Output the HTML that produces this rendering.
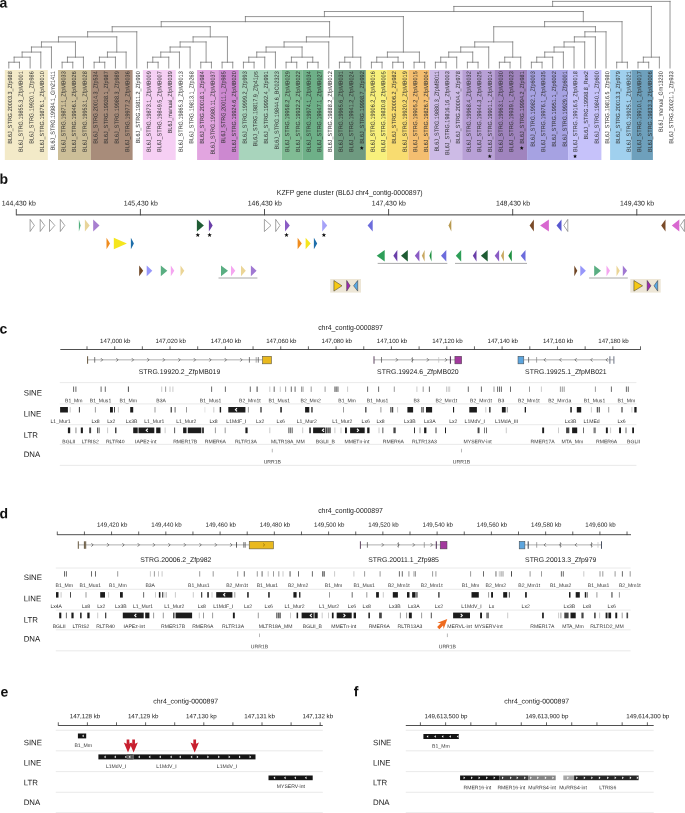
<!DOCTYPE html>
<html><head><meta charset="utf-8"><title>Figure</title>
<style>
html,body{margin:0;padding:0;background:#fff;}
body{width:685px;height:813px;overflow:hidden;font-family:"Liberation Sans",sans-serif;}
svg{display:block;will-change:transform;}
svg text{font-family:"Liberation Sans",sans-serif;}
</style></head><body>
<svg width="685" height="813" viewBox="0 0 685 813">
<rect width="685" height="813" fill="#fff"/>
<g opacity="0.999">
<rect x="4.8" y="70" width="43" height="90" fill="#F3EAC8"/>
<rect x="58" y="70" width="32.9" height="90" fill="#CCBE98"/>
<rect x="90.9" y="70" width="41.7" height="90" fill="#A88C7A"/>
<rect x="142.9" y="70" width="32.8" height="90" fill="#F6CFF4"/>
<rect x="197.1" y="70" width="21.2" height="90" fill="#E2A5E0"/>
<rect x="218.3" y="70" width="20.6" height="90" fill="#CC88D0"/>
<rect x="238.9" y="70" width="42.8" height="90" fill="#A8D4BC"/>
<rect x="281.7" y="70" width="20.6" height="90" fill="#80BC94"/>
<rect x="302.3" y="70" width="21.1" height="90" fill="#6EB088"/>
<rect x="334" y="70" width="31.9" height="90" fill="#6E9A80"/>
<rect x="365.9" y="70" width="21" height="90" fill="#F8F07C"/>
<rect x="386.9" y="70" width="21.4" height="90" fill="#F8DC70"/>
<rect x="408.3" y="70" width="21.2" height="90" fill="#F4BE70"/>
<rect x="429.5" y="70" width="32.7" height="90" fill="#CDBBE6"/>
<rect x="462.2" y="70" width="32.1" height="90" fill="#B8A0D6"/>
<rect x="494.3" y="70" width="32.8" height="90" fill="#A084BE"/>
<rect x="527.1" y="70" width="41" height="90" fill="#A6A2E2"/>
<rect x="568.1" y="70" width="33.3" height="90" fill="#C6C2FA"/>
<rect x="610.1" y="70" width="21.3" height="90" fill="#A0D0EE"/>
<rect x="631.4" y="70" width="21.5" height="90" fill="#6EA0BC"/>
<path d="M8.8 68L8.8 62.23M19.46 68L19.46 62.23M8.8 62.23L19.46 62.23M14.13 62.23L14.13 57.16M30.13 68L30.13 57.16M14.13 57.16L30.13 57.16M22.13 57.16L22.13 52.09M40.8 68L40.8 52.09M22.13 52.09L40.8 52.09M31.46 52.09L31.46 47.02M51.46 68L51.46 47.02M31.46 47.02L51.46 47.02M62.12 68L62.12 62.23M72.79 68L72.79 62.23M62.12 62.23L72.79 62.23M67.46 62.23L67.46 57.16M83.45 68L83.45 57.16M67.46 57.16L83.45 57.16M41.46 47.02L41.46 41.95M75.46 57.16L75.46 41.95M41.46 41.95L75.46 41.95M94.12 68L94.12 62.23M104.78 68L104.78 62.23M94.12 62.23L104.78 62.23M99.45 62.23L99.45 57.16M115.45 68L115.45 57.16M99.45 57.16L115.45 57.16M107.45 57.16L107.45 52.09M126.11 68L126.11 52.09M107.45 52.09L126.11 52.09M58.46 41.95L58.46 36.88M116.78 52.09L116.78 36.88M58.46 36.88L116.78 36.88M87.62 36.88L87.62 31.81M136.78 68L136.78 31.81M87.62 31.81L136.78 31.81M147.44 68L147.44 62.23M158.11 68L158.11 62.23M147.44 62.23L158.11 62.23M152.78 62.23L152.78 57.16M168.78 68L168.78 57.16M152.78 57.16L168.78 57.16M160.78 57.16L160.78 52.09M179.44 68L179.44 52.09M160.78 52.09L179.44 52.09M170.11 52.09L170.11 47.02M190.1 68L190.1 47.02M170.11 47.02L190.1 47.02M200.77 68L200.77 62.23M211.44 68L211.44 62.23M200.77 62.23L211.44 62.23M180.11 47.02L180.11 41.95M206.1 62.23L206.1 41.95M180.11 41.95L206.1 41.95M222.1 68L222.1 62.23M232.76 68L232.76 62.23M222.1 62.23L232.76 62.23M193.1 41.95L193.1 36.88M227.43 62.23L227.43 36.88M193.1 36.88L227.43 36.88M112.2 31.81L112.2 26.74M210.27 36.88L210.27 26.74M112.2 26.74L210.27 26.74M243.43 68L243.43 62.23M254.09 68L254.09 62.23M243.43 62.23L254.09 62.23M248.76 62.23L248.76 57.16M264.76 68L264.76 57.16M248.76 57.16L264.76 57.16M256.76 57.16L256.76 52.09M275.43 68L275.43 52.09M256.76 52.09L275.43 52.09M286.09 68L286.09 62.23M296.75 68L296.75 62.23M286.09 62.23L296.75 62.23M307.42 68L307.42 62.23M318.08 68L318.08 62.23M307.42 62.23L318.08 62.23M291.42 62.23L291.42 57.16M312.75 62.23L312.75 57.16M291.42 57.16L312.75 57.16M266.09 52.09L266.09 47.02M302.09 57.16L302.09 47.02M266.09 47.02L302.09 47.02M284.09 47.02L284.09 41.95M328.75 68L328.75 41.95M284.09 41.95L328.75 41.95M339.41 68L339.41 62.23M350.08 68L350.08 62.23M339.41 62.23L350.08 62.23M344.75 62.23L344.75 57.16M360.75 68L360.75 57.16M344.75 57.16L360.75 57.16M306.42 41.95L306.42 36.88M352.75 57.16L352.75 36.88M306.42 36.88L352.75 36.88M161.23 26.74L161.23 21.67M329.58 36.88L329.58 21.67M161.23 21.67L329.58 21.67M371.41 68L371.41 62.23M382.07 68L382.07 62.23M371.41 62.23L382.07 62.23M392.74 68L392.74 62.23M403.4 68L403.4 62.23M392.74 62.23L403.4 62.23M376.74 62.23L376.74 57.16M398.07 62.23L398.07 57.16M376.74 57.16L398.07 57.16M414.07 68L414.07 62.23M424.73 68L424.73 62.23M414.07 62.23L424.73 62.23M387.41 57.16L387.41 52.09M419.4 62.23L419.4 52.09M387.41 52.09L419.4 52.09M245.41 21.67L245.41 16.6M403.4 52.09L403.4 16.6M245.41 16.6L403.4 16.6M435.4 68L435.4 62.23M446.06 68L446.06 62.23M435.4 62.23L446.06 62.23M440.73 62.23L440.73 57.16M456.73 68L456.73 57.16M440.73 57.16L456.73 57.16M467.39 68L467.39 62.23M478.06 68L478.06 62.23M467.39 62.23L478.06 62.23M448.73 57.16L448.73 52.09M472.73 62.23L472.73 52.09M448.73 52.09L472.73 52.09M460.73 52.09L460.73 47.02M488.72 68L488.72 47.02M460.73 47.02L488.72 47.02M499.39 68L499.39 62.23M510.05 68L510.05 62.23M499.39 62.23L510.05 62.23M504.72 62.23L504.72 57.16M520.72 68L520.72 57.16M504.72 57.16L520.72 57.16M474.73 47.02L474.73 41.95M512.72 57.16L512.72 41.95M474.73 41.95L512.72 41.95M531.38 68L531.38 62.23M542.05 68L542.05 62.23M531.38 62.23L542.05 62.23M536.72 62.23L536.72 57.16M552.71 68L552.71 57.16M536.72 57.16L552.71 57.16M544.72 57.16L544.72 52.09M563.38 68L563.38 52.09M544.72 52.09L563.38 52.09M554.05 52.09L554.05 47.02M574.04 68L574.04 47.02M554.05 47.02L574.04 47.02M564.05 47.02L564.05 41.95M584.71 68L584.71 41.95M564.05 41.95L584.71 41.95M574.38 41.95L574.38 36.88M595.37 68L595.37 36.88M574.38 36.88L595.37 36.88M584.88 36.88L584.88 31.81M606.04 68L606.04 31.81M584.88 31.81L606.04 31.81M493.72 41.95L493.72 26.74M595.46 31.81L595.46 26.74M493.72 26.74L595.46 26.74M616.7 68L616.7 62.23M627.37 68L627.37 62.23M616.7 62.23L627.37 62.23M544.59 26.74L544.59 21.67M622.04 62.23L622.04 21.67M544.59 21.67L622.04 21.67M324.41 16.6L324.41 11.53M583.31 21.67L583.31 11.53M324.41 11.53L583.31 11.53M638.03 68L638.03 62.23M648.7 68L648.7 62.23M638.03 62.23L648.7 62.23M643.37 62.23L643.37 57.16M659.36 68L659.36 57.16M643.37 57.16L659.36 57.16M453.86 11.53L453.86 6.46M651.37 57.16L651.37 6.46M453.86 6.46L651.37 6.46M552.61 6.46L552.61 1.39M670.03 68L670.03 1.39M552.61 1.39L670.03 1.39" stroke="#6c6c6c" stroke-width="0.72" fill="none" stroke-linecap="square"/>
<text transform="translate(12.1 71.3) rotate(-89.97) scale(.917 1)" font-size="6" text-anchor="end" fill="#2e2e2e">BL6J_STRG.20003.3_Zfp988</text>
<text transform="translate(22.77 71.3) rotate(-89.97) scale(.917 1)" font-size="6" text-anchor="end" fill="#2e2e2e">BL6J_STRG.19855.3_ZfpMB001</text>
<text transform="translate(33.43 71.3) rotate(-89.97) scale(.917 1)" font-size="6" text-anchor="end" fill="#2e2e2e">BL6J_STRG.19920.1_Zfp986</text>
<text transform="translate(44.09 71.3) rotate(-89.97) scale(.917 1)" font-size="6" text-anchor="end" fill="#2e2e2e">BL6J_STRG.19876.1_ZfpMB010</text>
<text transform="translate(54.76 71.3) rotate(-89.97) scale(.917 1)" font-size="6" text-anchor="end" fill="#2e2e2e">BL6J_STRG.19984.1_Gm21411</text>
<text transform="translate(65.42 71.3) rotate(-89.97) scale(.917 1)" font-size="6" text-anchor="end" fill="#2e2e2e">BL6J_STRG.19871.1_ZfpMB033</text>
<text transform="translate(76.09 71.3) rotate(-89.97) scale(.917 1)" font-size="6" text-anchor="end" fill="#2e2e2e">BL6J_STRG.19946.1_ZfpMB026</text>
<text transform="translate(86.75 71.3) rotate(-89.97) scale(.917 1)" font-size="6" text-anchor="end" fill="#2e2e2e">BL6J_STRG.19953.1_ZfpMB028</text>
<text transform="translate(97.42 71.3) rotate(-89.97) scale(.917 1)" font-size="6" text-anchor="end" fill="#2e2e2e">BL6J_STRG.20014.3_Zfp534</text>
<text transform="translate(108.08 71.3) rotate(-89.97) scale(.917 1)" font-size="6" text-anchor="end" fill="#2e2e2e">BL6J_STRG.19938.1_Zfp987</text>
<text transform="translate(118.75 71.3) rotate(-89.97) scale(.917 1)" font-size="6" text-anchor="end" fill="#2e2e2e">BL6J_STRG.19988.3_Zfp989</text>
<text transform="translate(129.41 71.3) rotate(-89.97) scale(.917 1)" font-size="6" text-anchor="end" fill="#2e2e2e">BL6J_STRG.19977.2_ZfpMB036</text>
<text transform="translate(140.08 71.3) rotate(-89.97) scale(.917 1)" font-size="6" text-anchor="end" fill="#2e2e2e">BL6J_STRG.19811.2_Zfp990</text>
<text transform="translate(150.75 71.3) rotate(-89.97) scale(.917 1)" font-size="6" text-anchor="end" fill="#2e2e2e">BL6J_STRG.19873.1_ZfpMB009</text>
<text transform="translate(161.41 71.3) rotate(-89.97) scale(.917 1)" font-size="6" text-anchor="end" fill="#2e2e2e">BL6J_STRG.19849.5_ZfpMB007</text>
<text transform="translate(172.08 71.3) rotate(-89.97) scale(.917 1)" font-size="6" text-anchor="end" fill="#2e2e2e">BL6J_manual_ZfpMB039</text>
<text transform="translate(182.74 71.3) rotate(-89.97) scale(.917 1)" font-size="6" text-anchor="end" fill="#2e2e2e">BL6J_STRG.19865.3_ZfpMB013</text>
<text transform="translate(193.41 71.3) rotate(-89.97) scale(.917 1)" font-size="6" text-anchor="end" fill="#2e2e2e">BL6J_STRG.19813.1_Zfp268</text>
<text transform="translate(204.07 71.3) rotate(-89.97) scale(.917 1)" font-size="6" text-anchor="end" fill="#2e2e2e">BL6J_STRG.20018.1_Zfp984</text>
<text transform="translate(214.74 71.3) rotate(-89.97) scale(.917 1)" font-size="6" text-anchor="end" fill="#2e2e2e">BL6J_STRG.19980.11_ZfpMB037</text>
<text transform="translate(225.4 71.3) rotate(-89.97) scale(.917 1)" font-size="6" text-anchor="end" fill="#2e2e2e">BL6J_STRG.20011.1_Zfp985</text>
<text transform="translate(236.06 71.3) rotate(-89.97) scale(.917 1)" font-size="6" text-anchor="end" fill="#2e2e2e">BL6J_STRG.19924.6_ZfpMB020</text>
<text transform="translate(246.73 71.3) rotate(-89.97) scale(.917 1)" font-size="6" text-anchor="end" fill="#2e2e2e">BL6J_STRG.19999.2_Zfp993</text>
<text transform="translate(257.39 71.3) rotate(-89.97) scale(.917 1)" font-size="6" text-anchor="end" fill="#2e2e2e">BL6J_STRG.19817.9_Zfp41ps</text>
<text transform="translate(268.06 71.3) rotate(-89.97) scale(.917 1)" font-size="6" text-anchor="end" fill="#2e2e2e">BL6J_STRG.19992.4_Zfp991</text>
<text transform="translate(278.73 71.3) rotate(-89.97) scale(.917 1)" font-size="6" text-anchor="end" fill="#2e2e2e">BL6J_STRG.19844.6_BC02323</text>
<text transform="translate(289.39 71.3) rotate(-89.97) scale(.917 1)" font-size="6" text-anchor="end" fill="#2e2e2e">BL6J_STRG.19958.2_ZfpMB029</text>
<text transform="translate(300.06 71.3) rotate(-89.97) scale(.917 1)" font-size="6" text-anchor="end" fill="#2e2e2e">BL6J_STRG.19932.2_ZfpMB022</text>
<text transform="translate(310.72 71.3) rotate(-89.97) scale(.917 1)" font-size="6" text-anchor="end" fill="#2e2e2e">BL6J_STRG.19974.1_ZfpMB034</text>
<text transform="translate(321.38 71.3) rotate(-89.97) scale(.917 1)" font-size="6" text-anchor="end" fill="#2e2e2e">BL6J_STRG.19947.1_ZfpMB027</text>
<text transform="translate(332.05 71.3) rotate(-89.97) scale(.917 1)" font-size="6" text-anchor="end" fill="#2e2e2e">BL6J_STRG.19888.2_ZfpMB012</text>
<text transform="translate(342.71 71.3) rotate(-89.97) scale(.917 1)" font-size="6" text-anchor="end" fill="#2e2e2e">BL6J_STRG.19965.6_ZfpMB031</text>
<text transform="translate(353.38 71.3) rotate(-89.97) scale(.917 1)" font-size="6" text-anchor="end" fill="#2e2e2e">BL6J_STRG.19941.2_ZfpMB024</text>
<text transform="translate(364.05 71.3) rotate(-89.97) scale(.917 1)" font-size="6" text-anchor="end" fill="#2e2e2e">BL6J_STRG.19998.7_Zfp992</text>
<polygon points="361.75,145.96 362.3,147.3 363.74,147.42 362.64,148.36 362.98,149.76 361.75,149.01 360.51,149.76 360.85,148.36 359.75,147.42 361.19,147.3" fill="#111"/>
<text transform="translate(374.71 71.3) rotate(-89.97) scale(.917 1)" font-size="6" text-anchor="end" fill="#2e2e2e">BL6J_STRG.19906.2_ZfpMB016</text>
<text transform="translate(385.38 71.3) rotate(-89.97) scale(.917 1)" font-size="6" text-anchor="end" fill="#2e2e2e">BL6J_STRG.19830.8_ZfpMB005</text>
<text transform="translate(396.04 71.3) rotate(-89.97) scale(.917 1)" font-size="6" text-anchor="end" fill="#2e2e2e">BL6J_STRG.20006.2_Zfp982</text>
<text transform="translate(406.7 71.3) rotate(-89.97) scale(.917 1)" font-size="6" text-anchor="end" fill="#2e2e2e">BL6J_STRG.19920.2_ZfpMB019</text>
<text transform="translate(417.37 71.3) rotate(-89.97) scale(.917 1)" font-size="6" text-anchor="end" fill="#2e2e2e">BL6J_STRG.19905.2_ZfpMB015</text>
<text transform="translate(428.03 71.3) rotate(-89.97) scale(.917 1)" font-size="6" text-anchor="end" fill="#2e2e2e">BL6J_STRG.19826.7_ZfpMB004</text>
<text transform="translate(438.7 71.3) rotate(-89.97) scale(.917 1)" font-size="6" text-anchor="end" fill="#2e2e2e">BL6J_STRG.19880.3_ZfpMB011</text>
<text transform="translate(449.37 71.3) rotate(-89.97) scale(.917 1)" font-size="6" text-anchor="end" fill="#2e2e2e">BL6J_STRG.19816.16_ZfpMB003</text>
<text transform="translate(460.03 71.3) rotate(-89.97) scale(.917 1)" font-size="6" text-anchor="end" fill="#2e2e2e">BL6J_STRG.20004.4_Zfp978</text>
<text transform="translate(470.69 71.3) rotate(-89.97) scale(.917 1)" font-size="6" text-anchor="end" fill="#2e2e2e">BL6J_STRG.19968.4_ZfpMB032</text>
<text transform="translate(481.36 71.3) rotate(-89.97) scale(.917 1)" font-size="6" text-anchor="end" fill="#2e2e2e">BL6J_STRG.19944.3_ZfpMB025</text>
<text transform="translate(492.02 71.3) rotate(-89.97) scale(.917 1)" font-size="6" text-anchor="end" fill="#2e2e2e">BL6J_STRG.19901.1_ZfpMB014</text>
<polygon points="489.72,154.21 490.28,155.55 491.72,155.67 490.62,156.61 490.96,158.01 489.72,157.26 488.49,158.01 488.83,156.61 487.73,155.67 489.17,155.55" fill="#111"/>
<text transform="translate(502.69 71.3) rotate(-89.97) scale(.917 1)" font-size="6" text-anchor="end" fill="#2e2e2e">BL6J_STRG.19963.1_ZfpMB030</text>
<text transform="translate(513.35 71.3) rotate(-89.97) scale(.917 1)" font-size="6" text-anchor="end" fill="#2e2e2e">BL6J_STRG.19939.1_ZfpMB023</text>
<text transform="translate(524.02 71.3) rotate(-89.97) scale(.917 1)" font-size="6" text-anchor="end" fill="#2e2e2e">BL6J_STRG.19994.2_Zfp981</text>
<polygon points="521.72,145.96 522.28,147.3 523.72,147.42 522.62,148.36 522.95,149.76 521.72,149.01 520.49,149.76 520.82,148.36 519.72,147.42 521.16,147.3" fill="#111"/>
<text transform="translate(534.68 71.3) rotate(-89.97) scale(.917 1)" font-size="6" text-anchor="end" fill="#2e2e2e">BL6J_STRG.19982.1_Zfp6003</text>
<text transform="translate(545.35 71.3) rotate(-89.97) scale(.917 1)" font-size="6" text-anchor="end" fill="#2e2e2e">BL6J_STRG.19976.1_ZfpMB035</text>
<text transform="translate(556.01 71.3) rotate(-89.97) scale(.917 1)" font-size="6" text-anchor="end" fill="#2e2e2e">BL6J_STRG.19951.1_Zfp6002</text>
<text transform="translate(566.68 71.3) rotate(-89.97) scale(.917 1)" font-size="6" text-anchor="end" fill="#2e2e2e">BL6J_STRG.19929.1_Zfp6001</text>
<text transform="translate(577.34 71.3) rotate(-89.97) scale(.917 1)" font-size="6" text-anchor="end" fill="#2e2e2e">BL6J_STRG.19916.5_ZfpMB018</text>
<polygon points="575.04,154.21 575.6,155.55 577.04,155.67 575.94,156.61 576.28,158.01 575.04,157.26 573.81,158.01 574.15,156.61 573.05,155.67 574.49,155.55" fill="#111"/>
<text transform="translate(588.01 71.3) rotate(-89.97) scale(.917 1)" font-size="6" text-anchor="end" fill="#2e2e2e">BL6J_STRG.19998.8_Rex2</text>
<text transform="translate(598.67 71.3) rotate(-89.97) scale(.917 1)" font-size="6" text-anchor="end" fill="#2e2e2e">BL6J_STRG.19840.1_Zfp600</text>
<text transform="translate(609.34 71.3) rotate(-89.97) scale(.917 1)" font-size="6" text-anchor="end" fill="#2e2e2e">BL6J_STRG.19816.5_Zfp980</text>
<text transform="translate(620 71.3) rotate(-89.97) scale(.917 1)" font-size="6" text-anchor="end" fill="#2e2e2e">BL6J_STRG.20013.3_Zfp979</text>
<text transform="translate(630.67 71.3) rotate(-89.97) scale(.917 1)" font-size="6" text-anchor="end" fill="#2e2e2e">BL6J_STRG.19925.1_ZfpMB021</text>
<text transform="translate(641.33 71.3) rotate(-89.97) scale(.917 1)" font-size="6" text-anchor="end" fill="#2e2e2e">BL6J_STRG.19910.1_ZfpMB017</text>
<text transform="translate(652 71.3) rotate(-89.97) scale(.917 1)" font-size="6" text-anchor="end" fill="#2e2e2e">BL6J_STRG.19833.3_ZfpMB006</text>
<text transform="translate(662.66 71.3) rotate(-89.97) scale(.917 1)" font-size="6" text-anchor="end" fill="#2e2e2e">BL6J_manual_Gm13230</text>
<text transform="translate(673.33 71.3) rotate(-89.97) scale(.917 1)" font-size="6" text-anchor="end" fill="#2e2e2e">BL6J_STRG.20021.1_Zfp933</text>
<text x="-0.6" y="7.4" font-size="14" font-weight="bold" fill="#111" transform="rotate(.03 -0.6 7.4)">a</text>
<text x="-0.6" y="183.8" font-size="14" font-weight="bold" fill="#111" transform="rotate(.03 -0.6 183.8)">b</text>
<text x="349.7" y="195.4" font-size="6.9" text-anchor="middle" fill="#222" transform="rotate(.03 349.7 195.4)">KZFP gene cluster (BL6J chr4_contig-0000897)</text>
<line x1="16.3" y1="214.9" x2="685" y2="214.9" stroke="#3c3c3c" stroke-width="1.0"/>
<line x1="16.3" y1="209" x2="16.3" y2="215.3" stroke="#3c3c3c" stroke-width="0.9"/>
<text x="18.8" y="205.4" font-size="6.9" text-anchor="middle" fill="#222" transform="rotate(.03 18.8 205.4)">144,430 kb</text>
<line x1="140.4" y1="209" x2="140.4" y2="215.3" stroke="#3c3c3c" stroke-width="0.9"/>
<text x="140.7" y="205.4" font-size="6.9" text-anchor="middle" fill="#222" transform="rotate(.03 140.7 205.4)">145,430 kb</text>
<line x1="264.5" y1="209" x2="264.5" y2="215.3" stroke="#3c3c3c" stroke-width="0.9"/>
<text x="264.8" y="205.4" font-size="6.9" text-anchor="middle" fill="#222" transform="rotate(.03 264.8 205.4)">146,430 kb</text>
<line x1="388.6" y1="209" x2="388.6" y2="215.3" stroke="#3c3c3c" stroke-width="0.9"/>
<text x="388.9" y="205.4" font-size="6.9" text-anchor="middle" fill="#222" transform="rotate(.03 388.9 205.4)">147,430 kb</text>
<line x1="512.7" y1="209" x2="512.7" y2="215.3" stroke="#3c3c3c" stroke-width="0.9"/>
<text x="513" y="205.4" font-size="6.9" text-anchor="middle" fill="#222" transform="rotate(.03 513 205.4)">148,430 kb</text>
<line x1="636.8" y1="209" x2="636.8" y2="215.3" stroke="#3c3c3c" stroke-width="0.9"/>
<text x="637.1" y="205.4" font-size="6.9" text-anchor="middle" fill="#222" transform="rotate(.03 637.1 205.4)">149,430 kb</text>
<polygon points="30.1,219.4 34.4,225.45 30.1,231.5" fill="#fff" stroke="#666" stroke-width="0.6" stroke-linejoin="miter"/>
<polygon points="40.2,219.4 44.7,225.45 40.2,231.5" fill="#fff" stroke="#666" stroke-width="0.6" stroke-linejoin="miter"/>
<polygon points="49.5,219.4 54.8,225.45 49.5,231.5" fill="#fff" stroke="#666" stroke-width="0.6" stroke-linejoin="miter"/>
<polygon points="60.3,219.4 64.8,225.45 60.3,231.5" fill="#fff" stroke="#666" stroke-width="0.6" stroke-linejoin="miter"/>
<polygon points="264.4,219.4 271,225.45 264.4,231.5" fill="#fff" stroke="#666" stroke-width="0.6" stroke-linejoin="miter"/>
<polygon points="275.7,219.4 280,225.45 275.7,231.5" fill="#fff" stroke="#666" stroke-width="0.6" stroke-linejoin="miter"/>
<polygon points="78.9,219.4 80.6,225.45 78.9,231.5" fill="#4FAE7C"/>
<polygon points="84.9,219.4 89.7,225.45 84.9,231.5" fill="#E8D49A"/>
<polygon points="93.2,219.4 99.5,225.45 93.2,231.5" fill="#A87FD0"/>
<polygon points="196.9,219.4 203.9,225.45 196.9,231.5" fill="#1F5C34"/>
<polygon points="208.9,219.4 212.7,225.45 208.9,231.5" fill="#6A3FA8"/>
<polygon points="285,219.4 289.8,225.45 285,231.5" fill="#8A5CC4"/>
<polygon points="322.2,219.4 327.2,225.45 322.2,231.5" fill="#A6A2F8"/>
<polygon points="372.7,219.4 367.6,225.45 372.7,231.5" fill="#6C6CDC"/>
<polygon points="451.3,219.4 448.5,225.45 451.3,231.5" fill="#B89A50"/>
<polygon points="533.9,219.4 529.6,225.45 533.9,231.5" fill="#7A4A28"/>
<polygon points="548.9,219.4 540.1,225.45 548.9,231.5" fill="#D868D0"/>
<polygon points="561.5,219.4 556.5,225.45 561.5,231.5" fill="#5858D0"/>
<polygon points="665.5,219.4 661.2,225.45 665.5,231.5" fill="#7A4A28"/>
<polygon points="679.3,219.4 671.8,225.45 679.3,231.5" fill="#D868D0"/>
<polygon points="567.8,219.4 563.8,225.45 567.8,231.5" fill="#fff" stroke="#666" stroke-width="0.6" stroke-linejoin="miter"/>
<polygon points="684.4,219.4 680.3,225.45 684.4,231.5" fill="#fff" stroke="#666" stroke-width="0.6" stroke-linejoin="miter"/>
<polygon points="197.8,232.65 198.42,234.14 200.03,234.27 198.81,235.33 199.18,236.9 197.8,236.06 196.42,236.9 196.79,235.33 195.57,234.27 197.18,234.14" fill="#111"/>
<polygon points="209.6,232.65 210.22,234.14 211.83,234.27 210.61,235.33 210.98,236.9 209.6,236.06 208.22,236.9 208.59,235.33 207.37,234.27 208.98,234.14" fill="#111"/>
<polygon points="286.5,232.65 287.12,234.14 288.73,234.27 287.51,235.33 287.88,236.9 286.5,236.06 285.12,236.9 285.49,235.33 284.27,234.27 285.88,234.14" fill="#111"/>
<polygon points="323.9,232.65 324.52,234.14 326.13,234.27 324.91,235.33 325.28,236.9 323.9,236.06 322.52,236.9 322.89,235.33 321.67,234.27 323.28,234.14" fill="#111"/>
<polygon points="106.5,237.8 110,243.5 106.5,249.2" fill="#F08C1E"/>
<polygon points="113.8,237.8 126.9,243.5 113.8,249.2" fill="#F5E61E"/>
<polygon points="130.9,237.8 133.9,243.5 130.9,249.2" fill="#1E6EAA"/>
<polygon points="297.6,237.8 301.8,243.5 297.6,249.2" fill="#F08C1E"/>
<polygon points="305.6,237.8 310.6,243.5 305.6,249.2" fill="#F5E61E"/>
<polygon points="313.9,237.8 317.2,243.5 313.9,249.2" fill="#1E6EAA"/>
<polygon points="384.7,250 376.7,255.8 384.7,261.6" fill="#2E9E58"/>
<polygon points="397.3,250 393.3,255.8 397.3,261.6" fill="#6A3FA8"/>
<polygon points="407.8,250 401,255.8 407.8,261.6" fill="#1F5C34"/>
<polygon points="419.4,250 414.8,255.8 419.4,261.6" fill="#8A5CC4"/>
<polygon points="424.6,250 421.9,255.8 424.6,261.6" fill="#C8A860"/>
<polygon points="431.5,250 429.4,255.8 431.5,261.6" fill="#1E9040"/>
<polygon points="446.3,250 441,255.8 446.3,261.6" fill="#6C6CDC"/>
<polygon points="461.2,250 455.8,255.8 461.2,261.6" fill="#2E9E58"/>
<polygon points="476.5,250 472.8,255.8 476.5,261.6" fill="#6A3FA8"/>
<polygon points="487.7,250 480.9,255.8 487.7,261.6" fill="#1F5C34"/>
<polygon points="499.1,250 494.7,255.8 499.1,261.6" fill="#8A5CC4"/>
<polygon points="503.9,250 501,255.8 503.9,261.6" fill="#C8A860"/>
<polygon points="511.8,250 508.3,255.8 511.8,261.6" fill="#1E9040"/>
<polygon points="525.5,250 520.7,255.8 525.5,261.6" fill="#6C6CDC"/>
<line x1="377.7" y1="263.4" x2="447.3" y2="263.4" stroke="#8c8c8c" stroke-width="0.75"/>
<line x1="455" y1="263.4" x2="527" y2="263.4" stroke="#8c8c8c" stroke-width="0.75"/>
<polygon points="139.2,265.4 143.2,270.8 139.2,276.2" fill="#6E4423"/>
<polygon points="146.7,265.4 152.3,270.8 146.7,276.2" fill="#9696FA"/>
<polygon points="160.8,265.4 167.3,270.8 160.8,276.2" fill="#5AAE82"/>
<polygon points="170.8,265.4 174.3,270.8 170.8,276.2" fill="#F5A5F0"/>
<polygon points="180.5,265.4 184.3,270.8 180.5,276.2" fill="#EBD596"/>
<polygon points="221,265.4 228,270.8 221,276.2" fill="#5AAE82"/>
<polygon points="231,265.4 235.3,270.8 231,276.2" fill="#F5A5F0"/>
<polygon points="241,265.4 245.8,270.8 241,276.2" fill="#EBD596"/>
<polygon points="250.9,265.4 256.6,270.8 250.9,276.2" fill="#A078D2"/>
<polygon points="574.3,265.4 577.3,270.8 574.3,276.2" fill="#6E4423"/>
<polygon points="580.3,265.4 585.9,270.8 580.3,276.2" fill="#9696FA"/>
<polygon points="594.2,265.4 601,270.8 594.2,276.2" fill="#5AAE82"/>
<polygon points="606.5,265.4 610,270.8 606.5,276.2" fill="#F5A5F0"/>
<polygon points="616.5,265.4 619.8,270.8 616.5,276.2" fill="#EBD596"/>
<polygon points="622.8,265.4 627.1,270.8 622.8,276.2" fill="#A078D2"/>
<line x1="218.5" y1="278" x2="257.4" y2="278" stroke="#8c8c8c" stroke-width="0.75"/>
<line x1="589.1" y1="278" x2="627.8" y2="278" stroke="#8c8c8c" stroke-width="0.75"/>
<rect x="330.2" y="279" width="30.8" height="13.6" fill="#EDE6D6"/>
<polygon points="333.9,280.5 342,285.8 333.9,291.1" fill="#F5C814" stroke="#333" stroke-width="0.5" stroke-linejoin="miter"/>
<polygon points="346.7,280.5 350.1,285.8 346.7,291.1" fill="#A028B4" stroke="#333" stroke-width="0.5" stroke-linejoin="miter"/>
<polygon points="357.7,280.5 353.6,285.8 357.7,291.1" fill="#5AAAE6" stroke="#333" stroke-width="0.5" stroke-linejoin="miter"/>
<rect x="630.3" y="279" width="30.4" height="13.6" fill="#EDE6D6"/>
<polygon points="633.9,280.5 642.6,285.8 633.9,291.1" fill="#F5C814" stroke="#333" stroke-width="0.5" stroke-linejoin="miter"/>
<polygon points="647.2,280.5 650.9,285.8 647.2,291.1" fill="#A028B4" stroke="#333" stroke-width="0.5" stroke-linejoin="miter"/>
<polygon points="657.7,280.5 654,285.8 657.7,291.1" fill="#5AAAE6" stroke="#333" stroke-width="0.5" stroke-linejoin="miter"/>
<text x="-0.6" y="333.5" font-size="14" font-weight="bold" fill="#111" transform="rotate(.03 -0.6 333.5)">c</text>
<text x="350.5" y="329.9" font-size="6.9" text-anchor="middle" fill="#222" transform="rotate(.03 350.5 329.9)">chr4_contig-0000897</text>
<line x1="60.3" y1="349.5" x2="640.5" y2="349.5" stroke="#3c3c3c" stroke-width="0.9"/>
<line x1="87" y1="346.3" x2="87" y2="349.9" stroke="#3c3c3c" stroke-width="0.8"/>
<line x1="114.67" y1="346.3" x2="114.67" y2="349.9" stroke="#3c3c3c" stroke-width="0.8"/>
<line x1="142.35" y1="346.3" x2="142.35" y2="349.9" stroke="#3c3c3c" stroke-width="0.8"/>
<line x1="170.03" y1="346.3" x2="170.03" y2="349.9" stroke="#3c3c3c" stroke-width="0.8"/>
<line x1="197.7" y1="346.3" x2="197.7" y2="349.9" stroke="#3c3c3c" stroke-width="0.8"/>
<line x1="225.38" y1="346.3" x2="225.38" y2="349.9" stroke="#3c3c3c" stroke-width="0.8"/>
<line x1="253.05" y1="346.3" x2="253.05" y2="349.9" stroke="#3c3c3c" stroke-width="0.8"/>
<line x1="280.73" y1="346.3" x2="280.73" y2="349.9" stroke="#3c3c3c" stroke-width="0.8"/>
<line x1="308.4" y1="346.3" x2="308.4" y2="349.9" stroke="#3c3c3c" stroke-width="0.8"/>
<line x1="336.08" y1="346.3" x2="336.08" y2="349.9" stroke="#3c3c3c" stroke-width="0.8"/>
<line x1="363.75" y1="346.3" x2="363.75" y2="349.9" stroke="#3c3c3c" stroke-width="0.8"/>
<line x1="391.43" y1="346.3" x2="391.43" y2="349.9" stroke="#3c3c3c" stroke-width="0.8"/>
<line x1="419.1" y1="346.3" x2="419.1" y2="349.9" stroke="#3c3c3c" stroke-width="0.8"/>
<line x1="446.78" y1="346.3" x2="446.78" y2="349.9" stroke="#3c3c3c" stroke-width="0.8"/>
<line x1="474.45" y1="346.3" x2="474.45" y2="349.9" stroke="#3c3c3c" stroke-width="0.8"/>
<line x1="502.12" y1="346.3" x2="502.12" y2="349.9" stroke="#3c3c3c" stroke-width="0.8"/>
<line x1="529.8" y1="346.3" x2="529.8" y2="349.9" stroke="#3c3c3c" stroke-width="0.8"/>
<line x1="557.48" y1="346.3" x2="557.48" y2="349.9" stroke="#3c3c3c" stroke-width="0.8"/>
<line x1="585.15" y1="346.3" x2="585.15" y2="349.9" stroke="#3c3c3c" stroke-width="0.8"/>
<line x1="612.83" y1="346.3" x2="612.83" y2="349.9" stroke="#3c3c3c" stroke-width="0.8"/>
<line x1="640.5" y1="346.3" x2="640.5" y2="349.9" stroke="#3c3c3c" stroke-width="0.8"/>
<text x="115.27" y="343.1" font-size="6.15" text-anchor="middle" fill="#222" transform="rotate(.03 115.27 343.1)">147,000 kb</text>
<text x="170.62" y="343.1" font-size="6.15" text-anchor="middle" fill="#222" transform="rotate(.03 170.62 343.1)">147,020 kb</text>
<text x="225.97" y="343.1" font-size="6.15" text-anchor="middle" fill="#222" transform="rotate(.03 225.97 343.1)">147,040 kb</text>
<text x="281.33" y="343.1" font-size="6.15" text-anchor="middle" fill="#222" transform="rotate(.03 281.33 343.1)">147,060 kb</text>
<text x="336.68" y="343.1" font-size="6.15" text-anchor="middle" fill="#222" transform="rotate(.03 336.68 343.1)">147,080 kb</text>
<text x="392.03" y="343.1" font-size="6.15" text-anchor="middle" fill="#222" transform="rotate(.03 392.03 343.1)">147,100 kb</text>
<text x="447.38" y="343.1" font-size="6.15" text-anchor="middle" fill="#222" transform="rotate(.03 447.38 343.1)">147,120 kb</text>
<text x="502.73" y="343.1" font-size="6.15" text-anchor="middle" fill="#222" transform="rotate(.03 502.73 343.1)">147,140 kb</text>
<text x="558.08" y="343.1" font-size="6.15" text-anchor="middle" fill="#222" transform="rotate(.03 558.08 343.1)">147,160 kb</text>
<text x="613.43" y="343.1" font-size="6.15" text-anchor="middle" fill="#222" transform="rotate(.03 613.43 343.1)">147,180 kb</text>
<line x1="87.6" y1="359.85" x2="262.5" y2="359.85" stroke="#777" stroke-width="0.6"/>
<line x1="87.6" y1="356.25" x2="87.6" y2="363.75" stroke="#65553d" stroke-width="1.0"/>
<line x1="94.7" y1="357.05" x2="94.7" y2="362.65" stroke="#444" stroke-width="0.7"/>
<line x1="249.4" y1="357.05" x2="249.4" y2="362.65" stroke="#444" stroke-width="0.7"/>
<line x1="256.2" y1="357.05" x2="256.2" y2="362.65" stroke="#808080" stroke-width="0.7"/>
<line x1="258.3" y1="357.05" x2="258.3" y2="362.65" stroke="#444" stroke-width="0.7"/>
<path d="M100.95 358.15L102.65 359.85L100.95 361.55" fill="none" stroke="#484848" stroke-width="0.7"/>
<path d="M116.35 358.15L118.05 359.85L116.35 361.55" fill="none" stroke="#484848" stroke-width="0.7"/>
<path d="M131.85 358.15L133.55 359.85L131.85 361.55" fill="none" stroke="#484848" stroke-width="0.7"/>
<path d="M147.35 358.15L149.05 359.85L147.35 361.55" fill="none" stroke="#484848" stroke-width="0.7"/>
<path d="M162.95 358.15L164.65 359.85L162.95 361.55" fill="none" stroke="#484848" stroke-width="0.7"/>
<path d="M178.45 358.15L180.15 359.85L178.45 361.55" fill="none" stroke="#484848" stroke-width="0.7"/>
<path d="M193.85 358.15L195.55 359.85L193.85 361.55" fill="none" stroke="#484848" stroke-width="0.7"/>
<path d="M209.35 358.15L211.05 359.85L209.35 361.55" fill="none" stroke="#484848" stroke-width="0.7"/>
<path d="M224.75 358.15L226.45 359.85L224.75 361.55" fill="none" stroke="#484848" stroke-width="0.7"/>
<path d="M240.35 358.15L242.05 359.85L240.35 361.55" fill="none" stroke="#484848" stroke-width="0.7"/>
<rect x="262.5" y="356.25" width="9" height="7.6" fill="#E9B91E" stroke="#444" stroke-width="0.5"/>
<text x="179.5" y="374.1" font-size="6.9" text-anchor="middle" fill="#222" transform="rotate(.03 179.5 374.1)">STRG.19920.2_ZfpMB019</text>
<line x1="374" y1="359.85" x2="455" y2="359.85" stroke="#777" stroke-width="0.6"/>
<line x1="374" y1="356.25" x2="374" y2="363.75" stroke="#5e4560" stroke-width="1.0"/>
<line x1="450.4" y1="356.25" x2="450.4" y2="363.75" stroke="#4a2a50" stroke-width="1.0"/>
<line x1="381.5" y1="357.05" x2="381.5" y2="362.65" stroke="#444" stroke-width="0.7"/>
<line x1="412.4" y1="357.05" x2="412.4" y2="362.65" stroke="#808080" stroke-width="0.7"/>
<line x1="438.7" y1="357.05" x2="438.7" y2="362.65" stroke="#bdbdbd" stroke-width="0.7"/>
<path d="M395.95 358.15L397.65 359.85L395.95 361.55" fill="none" stroke="#484848" stroke-width="0.7"/>
<path d="M411.55 358.15L413.25 359.85L411.55 361.55" fill="none" stroke="#484848" stroke-width="0.7"/>
<path d="M426.95 358.15L428.65 359.85L426.95 361.55" fill="none" stroke="#484848" stroke-width="0.7"/>
<path d="M445.15 358.15L446.85 359.85L445.15 361.55" fill="none" stroke="#484848" stroke-width="0.7"/>
<rect x="454.9" y="356.25" width="6.8" height="7.6" fill="#A3399E" stroke="#444" stroke-width="0.5"/>
<text x="417.9" y="374.1" font-size="6.9" text-anchor="middle" fill="#222" transform="rotate(.03 417.9 374.1)">STRG.19924.6_ZfpMB020</text>
<line x1="523.8" y1="359.85" x2="613.9" y2="359.85" stroke="#777" stroke-width="0.6"/>
<line x1="609.9" y1="356.25" x2="609.9" y2="363.75" stroke="#6d7484" stroke-width="1.0"/>
<line x1="613.9" y1="356.25" x2="613.9" y2="363.75" stroke="#6d7484" stroke-width="1.0"/>
<line x1="528.6" y1="357.05" x2="528.6" y2="362.65" stroke="#444" stroke-width="0.7"/>
<line x1="536.6" y1="357.05" x2="536.6" y2="362.65" stroke="#808080" stroke-width="0.7"/>
<path d="M545.75 358.15L544.05 359.85L545.75 361.55" fill="none" stroke="#484848" stroke-width="0.7"/>
<path d="M561.35 358.15L559.65 359.85L561.35 361.55" fill="none" stroke="#484848" stroke-width="0.7"/>
<path d="M576.65 358.15L574.95 359.85L576.65 361.55" fill="none" stroke="#484848" stroke-width="0.7"/>
<path d="M592.45 358.15L590.75 359.85L592.45 361.55" fill="none" stroke="#484848" stroke-width="0.7"/>
<path d="M607.75 358.15L606.05 359.85L607.75 361.55" fill="none" stroke="#484848" stroke-width="0.7"/>
<rect x="518" y="356.25" width="5.8" height="7.6" fill="#5CA5DE" stroke="#444" stroke-width="0.5"/>
<text x="565.9" y="374.1" font-size="6.9" text-anchor="middle" fill="#222" transform="rotate(.03 565.9 374.1)">STRG.19925.1_ZfpMB021</text>
<line x1="59.8" y1="382.6" x2="636.4" y2="382.6" stroke="#e4e4e4" stroke-width="0.8"/>
<line x1="59.8" y1="403.9" x2="636.4" y2="403.9" stroke="#e4e4e4" stroke-width="0.8"/>
<line x1="59.8" y1="424.7" x2="636.4" y2="424.7" stroke="#e4e4e4" stroke-width="0.8"/>
<line x1="59.8" y1="444.4" x2="636.4" y2="444.4" stroke="#e4e4e4" stroke-width="0.8"/>
<line x1="59.8" y1="465.4" x2="636.4" y2="465.4" stroke="#e4e4e4" stroke-width="0.8"/>
<text x="23.7" y="395.4" font-size="7.85" fill="#222" transform="rotate(.03 23.7 395.4)">SINE</text>
<text x="23.7" y="416.6" font-size="7.85" fill="#222" transform="rotate(.03 23.7 416.6)">LINE</text>
<text x="23.7" y="437.8" font-size="7.85" fill="#222" transform="rotate(.03 23.7 437.8)">LTR</text>
<text x="23.7" y="456.9" font-size="7.85" fill="#222" transform="rotate(.03 23.7 456.9)">DNA</text>
<line x1="73.6" y1="386.5" x2="73.6" y2="391.9" stroke="#444" stroke-width="0.8"/>
<line x1="75.9" y1="386.5" x2="75.9" y2="391.9" stroke="#444" stroke-width="0.8"/>
<line x1="101.1" y1="386.5" x2="101.1" y2="391.9" stroke="#444" stroke-width="0.8"/>
<line x1="105.3" y1="386.5" x2="105.3" y2="391.9" stroke="#444" stroke-width="0.8"/>
<line x1="128.4" y1="386.5" x2="128.4" y2="391.9" stroke="#1c1c1c" stroke-width="0.8"/>
<line x1="161.7" y1="386.5" x2="161.7" y2="391.9" stroke="#bdbdbd" stroke-width="0.8"/>
<line x1="165.6" y1="386.5" x2="165.6" y2="391.9" stroke="#808080" stroke-width="0.8"/>
<line x1="170" y1="386.5" x2="170" y2="391.9" stroke="#bdbdbd" stroke-width="0.8"/>
<line x1="172.9" y1="386.5" x2="172.9" y2="391.9" stroke="#bdbdbd" stroke-width="0.8"/>
<line x1="211.6" y1="386.5" x2="211.6" y2="391.9" stroke="#444" stroke-width="0.8"/>
<line x1="225.4" y1="386.5" x2="225.4" y2="391.9" stroke="#444" stroke-width="0.8"/>
<line x1="250.3" y1="386.5" x2="250.3" y2="391.9" stroke="#444" stroke-width="0.8"/>
<rect x="256.6" y="386.5" width="1" height="5.4" fill="#444"/>
<line x1="269.8" y1="386.5" x2="269.8" y2="391.9" stroke="#bdbdbd" stroke-width="0.8"/>
<line x1="274.2" y1="386.5" x2="274.2" y2="391.9" stroke="#444" stroke-width="0.8"/>
<line x1="280.3" y1="386.5" x2="280.3" y2="391.9" stroke="#bdbdbd" stroke-width="0.8"/>
<line x1="285.6" y1="386.5" x2="285.6" y2="391.9" stroke="#808080" stroke-width="0.8"/>
<line x1="291.3" y1="386.5" x2="291.3" y2="391.9" stroke="#444" stroke-width="0.8"/>
<line x1="295.1" y1="386.5" x2="295.1" y2="391.9" stroke="#444" stroke-width="0.8"/>
<line x1="301.5" y1="386.5" x2="301.5" y2="391.9" stroke="#808080" stroke-width="0.8"/>
<line x1="303" y1="386.5" x2="303" y2="391.9" stroke="#808080" stroke-width="0.8"/>
<line x1="311.2" y1="386.5" x2="311.2" y2="391.9" stroke="#808080" stroke-width="0.8"/>
<line x1="325.1" y1="386.5" x2="325.1" y2="391.9" stroke="#808080" stroke-width="0.8"/>
<rect x="334.5" y="386.5" width="1" height="5.4" fill="#444"/>
<rect x="336.4" y="386.5" width="1" height="5.4" fill="#444"/>
<line x1="338.2" y1="386.5" x2="338.2" y2="391.9" stroke="#808080" stroke-width="0.8"/>
<line x1="347.6" y1="386.5" x2="347.6" y2="391.9" stroke="#bdbdbd" stroke-width="0.8"/>
<line x1="367.6" y1="386.5" x2="367.6" y2="391.9" stroke="#444" stroke-width="0.8"/>
<line x1="378.6" y1="386.5" x2="378.6" y2="391.9" stroke="#444" stroke-width="0.8"/>
<line x1="394.3" y1="386.5" x2="394.3" y2="391.9" stroke="#808080" stroke-width="0.8"/>
<line x1="416.9" y1="386.5" x2="416.9" y2="391.9" stroke="#bdbdbd" stroke-width="0.8"/>
<line x1="423.2" y1="386.5" x2="423.2" y2="391.9" stroke="#808080" stroke-width="0.8"/>
<line x1="429.4" y1="386.5" x2="429.4" y2="391.9" stroke="#444" stroke-width="0.8"/>
<line x1="446.5" y1="386.5" x2="446.5" y2="391.9" stroke="#bdbdbd" stroke-width="0.8"/>
<line x1="448.2" y1="386.5" x2="448.2" y2="391.9" stroke="#bdbdbd" stroke-width="0.8"/>
<line x1="449.7" y1="386.5" x2="449.7" y2="391.9" stroke="#bdbdbd" stroke-width="0.8"/>
<line x1="468.3" y1="386.5" x2="468.3" y2="391.9" stroke="#444" stroke-width="0.8"/>
<line x1="481.4" y1="386.5" x2="481.4" y2="391.9" stroke="#444" stroke-width="0.8"/>
<line x1="494" y1="386.5" x2="494" y2="391.9" stroke="#808080" stroke-width="0.8"/>
<line x1="497.6" y1="386.5" x2="497.6" y2="391.9" stroke="#444" stroke-width="0.8"/>
<line x1="499.5" y1="386.5" x2="499.5" y2="391.9" stroke="#444" stroke-width="0.8"/>
<line x1="501.4" y1="386.5" x2="501.4" y2="391.9" stroke="#444" stroke-width="0.8"/>
<line x1="510.5" y1="386.5" x2="510.5" y2="391.9" stroke="#444" stroke-width="0.8"/>
<line x1="529.5" y1="386.5" x2="529.5" y2="391.9" stroke="#808080" stroke-width="0.8"/>
<line x1="541.4" y1="386.5" x2="541.4" y2="391.9" stroke="#bdbdbd" stroke-width="0.8"/>
<line x1="560.4" y1="386.5" x2="560.4" y2="391.9" stroke="#808080" stroke-width="0.8"/>
<line x1="562.3" y1="386.5" x2="562.3" y2="391.9" stroke="#808080" stroke-width="0.8"/>
<line x1="564.2" y1="386.5" x2="564.2" y2="391.9" stroke="#808080" stroke-width="0.8"/>
<line x1="595.4" y1="386.5" x2="595.4" y2="391.9" stroke="#808080" stroke-width="0.8"/>
<line x1="611.4" y1="386.5" x2="611.4" y2="391.9" stroke="#444" stroke-width="0.8"/>
<line x1="626.4" y1="386.5" x2="626.4" y2="391.9" stroke="#444" stroke-width="0.8"/>
<line x1="628.3" y1="386.5" x2="628.3" y2="391.9" stroke="#444" stroke-width="0.8"/>
<text x="73.8" y="402.2" font-size="5.1" text-anchor="middle" fill="#333" transform="rotate(.03 73.8 402.2)">B1_Mm</text>
<text x="100.5" y="402.2" font-size="5.1" text-anchor="middle" fill="#333" transform="rotate(.03 100.5 402.2)">B1_Mus1</text>
<text x="128.3" y="402.2" font-size="5.1" text-anchor="middle" fill="#333" transform="rotate(.03 128.3 402.2)">B1_Mm</text>
<text x="161.1" y="402.2" font-size="5.1" text-anchor="middle" fill="#333" transform="rotate(.03 161.1 402.2)">B3A</text>
<text x="210.6" y="402.2" font-size="5.1" text-anchor="middle" fill="#333" transform="rotate(.03 210.6 402.2)">B1_Mus1</text>
<text x="249.9" y="402.2" font-size="5.1" text-anchor="middle" fill="#333" transform="rotate(.03 249.9 402.2)">B2_Mm1t</text>
<text x="279.3" y="402.2" font-size="5.1" text-anchor="middle" fill="#333" transform="rotate(.03 279.3 402.2)">B1_Mus1</text>
<text x="310.7" y="402.2" font-size="5.1" text-anchor="middle" fill="#333" transform="rotate(.03 310.7 402.2)">B2_Mm2</text>
<text x="347.1" y="402.2" font-size="5.1" text-anchor="middle" fill="#333" transform="rotate(.03 347.1 402.2)">B1_Mm</text>
<text x="377.6" y="402.2" font-size="5.1" text-anchor="middle" fill="#333" transform="rotate(.03 377.6 402.2)">B1_Mus1</text>
<text x="416.5" y="402.2" font-size="5.1" text-anchor="middle" fill="#333" transform="rotate(.03 416.5 402.2)">B3</text>
<text x="446.4" y="402.2" font-size="5.1" text-anchor="middle" fill="#333" transform="rotate(.03 446.4 402.2)">B2_Mm1t</text>
<text x="481" y="402.2" font-size="5.1" text-anchor="middle" fill="#333" transform="rotate(.03 481 402.2)">B2_Mm1t</text>
<text x="501.2" y="402.2" font-size="5.1" text-anchor="middle" fill="#333" transform="rotate(.03 501.2 402.2)">B3</text>
<text x="528.9" y="402.2" font-size="5.1" text-anchor="middle" fill="#333" transform="rotate(.03 528.9 402.2)">B2_Mm1t</text>
<text x="559.8" y="402.2" font-size="5.1" text-anchor="middle" fill="#333" transform="rotate(.03 559.8 402.2)">B2_Mm1a</text>
<text x="594.5" y="402.2" font-size="5.1" text-anchor="middle" fill="#333" transform="rotate(.03 594.5 402.2)">B1_Mus1</text>
<text x="626.4" y="402.2" font-size="5.1" text-anchor="middle" fill="#333" transform="rotate(.03 626.4 402.2)">B1_Mm</text>
<rect x="60.1" y="407" width="7.8" height="5.5" fill="#1c1c1c"/>
<line x1="70.2" y1="407" x2="70.2" y2="412.5" stroke="#bdbdbd" stroke-width="0.8"/>
<rect x="78.9" y="407" width="0.9" height="5.5" fill="#1c1c1c"/>
<line x1="95.4" y1="407" x2="95.4" y2="412.5" stroke="#808080" stroke-width="0.8"/>
<rect x="110" y="407" width="2.9" height="5.5" fill="#1c1c1c"/>
<rect x="114" y="407" width="1" height="5.5" fill="#444"/>
<line x1="118.4" y1="407" x2="118.4" y2="412.5" stroke="#bdbdbd" stroke-width="0.8"/>
<rect x="130.2" y="407" width="3" height="5.5" fill="#1c1c1c"/>
<rect x="154.6" y="407" width="0.8" height="5.5" fill="#808080"/>
<rect x="170.6" y="407" width="1.3" height="5.5" fill="#444"/>
<line x1="175.1" y1="407" x2="175.1" y2="412.5" stroke="#444" stroke-width="0.8"/>
<line x1="186.5" y1="407" x2="186.5" y2="412.5" stroke="#808080" stroke-width="0.8"/>
<line x1="204.9" y1="407" x2="204.9" y2="412.5" stroke="#dcdcdc" stroke-width="0.8"/>
<line x1="213.8" y1="407" x2="213.8" y2="412.5" stroke="#bdbdbd" stroke-width="0.8"/>
<rect x="219.7" y="407" width="1.4" height="5.5" fill="#1c1c1c"/>
<rect x="228.3" y="407" width="17.1" height="5.5" fill="#1c1c1c"/>
<path d="M237 408.15L235.4 409.75L237 411.35" fill="none" stroke="#fff" stroke-width="1.1"/>
<line x1="248.4" y1="407" x2="248.4" y2="412.5" stroke="#808080" stroke-width="0.8"/>
<rect x="260.3" y="407" width="1.4" height="5.5" fill="#444"/>
<rect x="280.3" y="407" width="1.5" height="5.5" fill="#1c1c1c"/>
<rect x="305.1" y="407" width="4.2" height="5.5" fill="#1c1c1c"/>
<rect x="311.2" y="407" width="1.5" height="5.5" fill="#444"/>
<line x1="343.5" y1="407" x2="343.5" y2="412.5" stroke="#808080" stroke-width="0.8"/>
<rect x="365.3" y="407" width="1.1" height="5.5" fill="#1c1c1c"/>
<line x1="380.9" y1="407" x2="380.9" y2="412.5" stroke="#808080" stroke-width="0.8"/>
<rect x="390.3" y="407" width="1.2" height="5.5" fill="#444"/>
<rect x="392" y="407" width="1.2" height="5.5" fill="#444"/>
<line x1="397.6" y1="407" x2="397.6" y2="412.5" stroke="#bdbdbd" stroke-width="0.8"/>
<rect x="407.4" y="407" width="5.7" height="5.5" fill="#1c1c1c"/>
<rect x="421.3" y="407" width="1.1" height="5.5" fill="#444"/>
<rect x="422.8" y="407" width="0.9" height="5.5" fill="#444"/>
<rect x="426" y="407" width="6.1" height="5.5" fill="#1c1c1c"/>
<rect x="453" y="407" width="1.1" height="5.5" fill="#1c1c1c"/>
<rect x="469.3" y="407" width="7.6" height="5.5" fill="#1c1c1c"/>
<line x1="485.8" y1="407" x2="485.8" y2="412.5" stroke="#bdbdbd" stroke-width="0.8"/>
<rect x="489.2" y="407" width="1.3" height="5.5" fill="#1c1c1c"/>
<rect x="501.9" y="407" width="3.8" height="5.5" fill="#1c1c1c"/>
<line x1="507.3" y1="407" x2="507.3" y2="412.5" stroke="#808080" stroke-width="0.8"/>
<rect x="524.7" y="407" width="1.3" height="5.5" fill="#1c1c1c"/>
<rect x="570.3" y="407" width="1.5" height="5.5" fill="#1c1c1c"/>
<rect x="576.8" y="407" width="4.4" height="5.5" fill="#1c1c1c"/>
<line x1="591.4" y1="407" x2="591.4" y2="412.5" stroke="#bdbdbd" stroke-width="0.8"/>
<rect x="596.8" y="407" width="1.1" height="5.5" fill="#444"/>
<rect x="598.7" y="407" width="1.1" height="5.5" fill="#444"/>
<line x1="608.7" y1="407" x2="608.7" y2="412.5" stroke="#808080" stroke-width="0.8"/>
<rect x="621.4" y="407" width="1.2" height="5.5" fill="#444"/>
<line x1="631.9" y1="407" x2="631.9" y2="412.5" stroke="#bdbdbd" stroke-width="0.8"/>
<rect x="634.3" y="407" width="2.3" height="5.5" fill="#1c1c1c"/>
<text x="60.6" y="423" font-size="5.1" text-anchor="middle" fill="#333" transform="rotate(.03 60.6 423)">L1_Mur1</text>
<text x="95.5" y="423" font-size="5.1" text-anchor="middle" fill="#333" transform="rotate(.03 95.5 423)">Lx8</text>
<text x="111.3" y="423" font-size="5.1" text-anchor="middle" fill="#333" transform="rotate(.03 111.3 423)">Lx2</text>
<text x="131.6" y="423" font-size="5.1" text-anchor="middle" fill="#333" transform="rotate(.03 131.6 423)">Lx3B</text>
<text x="154.3" y="423" font-size="5.1" text-anchor="middle" fill="#333" transform="rotate(.03 154.3 423)">L1_Mur1</text>
<text x="186.2" y="423" font-size="5.1" text-anchor="middle" fill="#333" transform="rotate(.03 186.2 423)">L1_Mur2</text>
<text x="213.5" y="423" font-size="5.1" text-anchor="middle" fill="#333" transform="rotate(.03 213.5 423)">Lx8</text>
<text x="236.4" y="423" font-size="5.1" text-anchor="middle" fill="#333" transform="rotate(.03 236.4 423)">L1MdF_I</text>
<text x="260.2" y="423" font-size="5.1" text-anchor="middle" fill="#333" transform="rotate(.03 260.2 423)">Lx2</text>
<text x="280.7" y="423" font-size="5.1" text-anchor="middle" fill="#333" transform="rotate(.03 280.7 423)">Lx6</text>
<text x="306.7" y="423" font-size="5.1" text-anchor="middle" fill="#333" transform="rotate(.03 306.7 423)">L1_Mur2</text>
<text x="342.2" y="423" font-size="5.1" text-anchor="middle" fill="#333" transform="rotate(.03 342.2 423)">L1_Mur2</text>
<text x="365.7" y="423" font-size="5.1" text-anchor="middle" fill="#333" transform="rotate(.03 365.7 423)">Lx6</text>
<text x="380.5" y="423" font-size="5.1" text-anchor="middle" fill="#333" transform="rotate(.03 380.5 423)">Lx8</text>
<text x="409.9" y="423" font-size="5.1" text-anchor="middle" fill="#333" transform="rotate(.03 409.9 423)">Lx3B</text>
<text x="429.8" y="423" font-size="5.1" text-anchor="middle" fill="#333" transform="rotate(.03 429.8 423)">Lx3A</text>
<text x="453.3" y="423" font-size="5.1" text-anchor="middle" fill="#333" transform="rotate(.03 453.3 423)">Lx2</text>
<text x="474.8" y="423" font-size="5.1" text-anchor="middle" fill="#333" transform="rotate(.03 474.8 423)">L1MdV_I</text>
<text x="506.5" y="423" font-size="5.1" text-anchor="middle" fill="#333" transform="rotate(.03 506.5 423)">L1MdA_III</text>
<text x="570.6" y="423" font-size="5.1" text-anchor="middle" fill="#333" transform="rotate(.03 570.6 423)">Lx3B</text>
<text x="591.6" y="423" font-size="5.1" text-anchor="middle" fill="#333" transform="rotate(.03 591.6 423)">L1MEd</text>
<text x="621.6" y="423" font-size="5.1" text-anchor="middle" fill="#333" transform="rotate(.03 621.6 423)">Lx6</text>
<rect x="67.9" y="427.5" width="2.3" height="5.7" fill="#1c1c1c"/>
<rect x="75.5" y="427.5" width="0.9" height="5.7" fill="#808080"/>
<rect x="80.8" y="427.5" width="2.1" height="5.7" fill="#1c1c1c"/>
<rect x="89.2" y="427.5" width="1.9" height="5.7" fill="#444"/>
<rect x="97.1" y="427.5" width="1.2" height="5.7" fill="#444"/>
<rect x="98.8" y="427.5" width="1" height="5.7" fill="#808080"/>
<line x1="107.6" y1="427.5" x2="107.6" y2="433.2" stroke="#bdbdbd" stroke-width="0.8"/>
<rect x="115" y="427.5" width="1.5" height="5.7" fill="#444"/>
<rect x="133.2" y="427.5" width="4.5" height="5.7" fill="#1c1c1c"/>
<rect x="138.5" y="427.5" width="15.8" height="5.7" fill="#1c1c1c"/>
<path d="M147.8 428.75L146.2 430.35L147.8 431.95" fill="none" stroke="#fff" stroke-width="1.1"/>
<rect x="156.2" y="427.5" width="4.3" height="5.7" fill="#1c1c1c"/>
<rect x="164.7" y="427.5" width="0.8" height="5.7" fill="#bdbdbd"/>
<rect x="174.2" y="427.5" width="0.9" height="5.7" fill="#444"/>
<rect x="183.1" y="427.5" width="3.4" height="5.7" fill="#1c1c1c"/>
<rect x="187.8" y="427.5" width="13.3" height="5.7" fill="#1c1c1c"/>
<rect x="201.7" y="427.5" width="2.3" height="5.7" fill="#444"/>
<line x1="215.4" y1="427.5" x2="215.4" y2="433.2" stroke="#808080" stroke-width="0.8"/>
<line x1="225.2" y1="427.5" x2="225.2" y2="433.2" stroke="#808080" stroke-width="0.8"/>
<rect x="245.4" y="427.5" width="2.2" height="5.7" fill="#1c1c1c"/>
<line x1="269.8" y1="427.5" x2="269.8" y2="433.2" stroke="#bdbdbd" stroke-width="0.8"/>
<rect x="288.4" y="427.5" width="1" height="5.7" fill="#444"/>
<rect x="290.3" y="427.5" width="1" height="5.7" fill="#444"/>
<rect x="292.2" y="427.5" width="0.6" height="5.7" fill="#444"/>
<line x1="302.7" y1="427.5" x2="302.7" y2="433.2" stroke="#bdbdbd" stroke-width="0.8"/>
<rect x="309.3" y="427.5" width="1.5" height="5.7" fill="#1c1c1c"/>
<rect x="313.1" y="427.5" width="12.3" height="5.7" fill="#1c1c1c"/>
<path d="M324 428.75L322.4 430.35L324 431.95" fill="none" stroke="#fff" stroke-width="1.1"/>
<rect x="326" y="427.5" width="1" height="5.7" fill="#444"/>
<rect x="327.5" y="427.5" width="1.2" height="5.7" fill="#1c1c1c"/>
<rect x="329.4" y="427.5" width="1.2" height="5.7" fill="#1c1c1c"/>
<line x1="334.9" y1="427.5" x2="334.9" y2="433.2" stroke="#bdbdbd" stroke-width="0.8"/>
<line x1="341" y1="427.5" x2="341" y2="433.2" stroke="#bdbdbd" stroke-width="0.8"/>
<rect x="345" y="427.5" width="1.9" height="5.7" fill="#1c1c1c"/>
<rect x="350.1" y="427.5" width="14.6" height="5.7" fill="#1c1c1c"/>
<path d="M357 428.75L358.6 430.35L357 431.95" fill="none" stroke="#fff" stroke-width="1.1"/>
<rect x="367.2" y="427.5" width="2.3" height="5.7" fill="#1c1c1c"/>
<line x1="379" y1="427.5" x2="379" y2="433.2" stroke="#bdbdbd" stroke-width="0.8"/>
<rect x="382.4" y="427.5" width="0.9" height="5.7" fill="#444"/>
<rect x="393.4" y="427.5" width="2.3" height="5.7" fill="#444"/>
<rect x="414.1" y="427.5" width="0.9" height="5.7" fill="#1c1c1c"/>
<line x1="420" y1="427.5" x2="420" y2="433.2" stroke="#808080" stroke-width="0.8"/>
<rect x="424.1" y="427.5" width="2.3" height="5.7" fill="#1c1c1c"/>
<rect x="435.5" y="427.5" width="1" height="5.7" fill="#444"/>
<rect x="445" y="427.5" width="1" height="5.7" fill="#1c1c1c"/>
<rect x="477.6" y="427.5" width="1.9" height="5.7" fill="#444"/>
<rect x="484.3" y="427.5" width="0.7" height="5.7" fill="#444"/>
<rect x="486" y="427.5" width="0.8" height="5.7" fill="#444"/>
<line x1="506.3" y1="427.5" x2="506.3" y2="433.2" stroke="#bdbdbd" stroke-width="0.8"/>
<rect x="542.2" y="427.5" width="1.9" height="5.7" fill="#1c1c1c"/>
<line x1="558.5" y1="427.5" x2="558.5" y2="433.2" stroke="#bdbdbd" stroke-width="0.8"/>
<rect x="566.1" y="427.5" width="3.2" height="5.7" fill="#444"/>
<rect x="572.1" y="427.5" width="5.1" height="5.7" fill="#1c1c1c"/>
<line x1="583.5" y1="427.5" x2="583.5" y2="433.2" stroke="#444" stroke-width="0.8"/>
<rect x="593.5" y="427.5" width="2.3" height="5.7" fill="#808080"/>
<rect x="605.9" y="427.5" width="1.9" height="5.7" fill="#1c1c1c"/>
<line x1="610.6" y1="427.5" x2="610.6" y2="433.2" stroke="#bdbdbd" stroke-width="0.8"/>
<rect x="619.1" y="427.5" width="1.9" height="5.7" fill="#1c1c1c"/>
<line x1="626" y1="427.5" x2="626" y2="433.2" stroke="#444" stroke-width="0.8"/>
<rect x="632.2" y="427.5" width="1.8" height="5.7" fill="#1c1c1c"/>
<text x="68.8" y="443.2" font-size="5.1" text-anchor="middle" fill="#333" transform="rotate(.03 68.8 443.2)">BGLII</text>
<text x="90.3" y="443.2" font-size="5.1" text-anchor="middle" fill="#333" transform="rotate(.03 90.3 443.2)">LTRIS2</text>
<text x="115.2" y="443.2" font-size="5.1" text-anchor="middle" fill="#333" transform="rotate(.03 115.2 443.2)">RLTR40</text>
<text x="145.7" y="443.2" font-size="5.1" text-anchor="middle" fill="#333" transform="rotate(.03 145.7 443.2)">IAPEz-int</text>
<text x="185.2" y="443.2" font-size="5.1" text-anchor="middle" fill="#333" transform="rotate(.03 185.2 443.2)">RMER17B</text>
<text x="215.4" y="443.2" font-size="5.1" text-anchor="middle" fill="#333" transform="rotate(.03 215.4 443.2)">RMER6A</text>
<text x="245.9" y="443.2" font-size="5.1" text-anchor="middle" fill="#333" transform="rotate(.03 245.9 443.2)">RLTR13A</text>
<text x="287.9" y="443.2" font-size="5.1" text-anchor="middle" fill="#333" transform="rotate(.03 287.9 443.2)">MLTR18A_MM</text>
<text x="325.4" y="443.2" font-size="5.1" text-anchor="middle" fill="#333" transform="rotate(.03 325.4 443.2)">BGLII_B</text>
<text x="356.9" y="443.2" font-size="5.1" text-anchor="middle" fill="#333" transform="rotate(.03 356.9 443.2)">MMETn-int</text>
<text x="393.4" y="443.2" font-size="5.1" text-anchor="middle" fill="#333" transform="rotate(.03 393.4 443.2)">RMER6A</text>
<text x="424.5" y="443.2" font-size="5.1" text-anchor="middle" fill="#333" transform="rotate(.03 424.5 443.2)">RLTR13A3</text>
<text x="477.6" y="443.2" font-size="5.1" text-anchor="middle" fill="#333" transform="rotate(.03 477.6 443.2)">MYSERV-int</text>
<text x="542.6" y="443.2" font-size="5.1" text-anchor="middle" fill="#333" transform="rotate(.03 542.6 443.2)">RMER17A</text>
<text x="572.3" y="443.2" font-size="5.1" text-anchor="middle" fill="#333" transform="rotate(.03 572.3 443.2)">MTA_Mm</text>
<text x="606.6" y="443.2" font-size="5.1" text-anchor="middle" fill="#333" transform="rotate(.03 606.6 443.2)">RMER6A</text>
<text x="633.6" y="443.2" font-size="5.1" text-anchor="middle" fill="#333" transform="rotate(.03 633.6 443.2)">BGLII</text>
<line x1="272.3" y1="448.8" x2="272.3" y2="452.4" stroke="#999" stroke-width="0.7"/>
<text x="272.3" y="463.6" font-size="5.1" text-anchor="middle" fill="#333" transform="rotate(.03 272.3 463.6)">URR1B</text>
<line x1="461.5" y1="448.8" x2="461.5" y2="452.4" stroke="#999" stroke-width="0.7"/>
<text x="461.5" y="463.6" font-size="5.1" text-anchor="middle" fill="#333" transform="rotate(.03 461.5 463.6)">URR1B</text>
<text x="-0.6" y="518.2" font-size="14" font-weight="bold" fill="#111" transform="rotate(.03 -0.6 518.2)">d</text>
<text x="350.5" y="513" font-size="6.9" text-anchor="middle" fill="#222" transform="rotate(.03 350.5 513)">chr4_contig-0000897</text>
<line x1="57.3" y1="534.7" x2="631" y2="534.7" stroke="#3c3c3c" stroke-width="0.9"/>
<line x1="57.3" y1="531.5" x2="57.3" y2="535.1" stroke="#3c3c3c" stroke-width="0.8"/>
<line x1="84.43" y1="531.5" x2="84.43" y2="535.1" stroke="#3c3c3c" stroke-width="0.8"/>
<line x1="111.56" y1="531.5" x2="111.56" y2="535.1" stroke="#3c3c3c" stroke-width="0.8"/>
<line x1="138.69" y1="531.5" x2="138.69" y2="535.1" stroke="#3c3c3c" stroke-width="0.8"/>
<line x1="165.82" y1="531.5" x2="165.82" y2="535.1" stroke="#3c3c3c" stroke-width="0.8"/>
<line x1="192.95" y1="531.5" x2="192.95" y2="535.1" stroke="#3c3c3c" stroke-width="0.8"/>
<line x1="220.08" y1="531.5" x2="220.08" y2="535.1" stroke="#3c3c3c" stroke-width="0.8"/>
<line x1="247.21" y1="531.5" x2="247.21" y2="535.1" stroke="#3c3c3c" stroke-width="0.8"/>
<line x1="274.34" y1="531.5" x2="274.34" y2="535.1" stroke="#3c3c3c" stroke-width="0.8"/>
<line x1="301.47" y1="531.5" x2="301.47" y2="535.1" stroke="#3c3c3c" stroke-width="0.8"/>
<line x1="328.6" y1="531.5" x2="328.6" y2="535.1" stroke="#3c3c3c" stroke-width="0.8"/>
<line x1="355.73" y1="531.5" x2="355.73" y2="535.1" stroke="#3c3c3c" stroke-width="0.8"/>
<line x1="382.86" y1="531.5" x2="382.86" y2="535.1" stroke="#3c3c3c" stroke-width="0.8"/>
<line x1="409.99" y1="531.5" x2="409.99" y2="535.1" stroke="#3c3c3c" stroke-width="0.8"/>
<line x1="437.12" y1="531.5" x2="437.12" y2="535.1" stroke="#3c3c3c" stroke-width="0.8"/>
<line x1="464.25" y1="531.5" x2="464.25" y2="535.1" stroke="#3c3c3c" stroke-width="0.8"/>
<line x1="491.38" y1="531.5" x2="491.38" y2="535.1" stroke="#3c3c3c" stroke-width="0.8"/>
<line x1="518.51" y1="531.5" x2="518.51" y2="535.1" stroke="#3c3c3c" stroke-width="0.8"/>
<line x1="545.64" y1="531.5" x2="545.64" y2="535.1" stroke="#3c3c3c" stroke-width="0.8"/>
<line x1="572.77" y1="531.5" x2="572.77" y2="535.1" stroke="#3c3c3c" stroke-width="0.8"/>
<line x1="599.9" y1="531.5" x2="599.9" y2="535.1" stroke="#3c3c3c" stroke-width="0.8"/>
<line x1="627.03" y1="531.5" x2="627.03" y2="535.1" stroke="#3c3c3c" stroke-width="0.8"/>
<text x="112.16" y="526.8" font-size="6.15" text-anchor="middle" fill="#222" transform="rotate(.03 112.16 526.8)">149,420 kb</text>
<text x="166.42" y="526.8" font-size="6.15" text-anchor="middle" fill="#222" transform="rotate(.03 166.42 526.8)">149,440 kb</text>
<text x="220.68" y="526.8" font-size="6.15" text-anchor="middle" fill="#222" transform="rotate(.03 220.68 526.8)">149,460 kb</text>
<text x="274.94" y="526.8" font-size="6.15" text-anchor="middle" fill="#222" transform="rotate(.03 274.94 526.8)">149,480 kb</text>
<text x="329.2" y="526.8" font-size="6.15" text-anchor="middle" fill="#222" transform="rotate(.03 329.2 526.8)">149,500 kb</text>
<text x="383.46" y="526.8" font-size="6.15" text-anchor="middle" fill="#222" transform="rotate(.03 383.46 526.8)">149,520 kb</text>
<text x="437.72" y="526.8" font-size="6.15" text-anchor="middle" fill="#222" transform="rotate(.03 437.72 526.8)">149,540 kb</text>
<text x="491.98" y="526.8" font-size="6.15" text-anchor="middle" fill="#222" transform="rotate(.03 491.98 526.8)">149,560 kb</text>
<text x="546.24" y="526.8" font-size="6.15" text-anchor="middle" fill="#222" transform="rotate(.03 546.24 526.8)">149,580 kb</text>
<text x="600.5" y="526.8" font-size="6.15" text-anchor="middle" fill="#222" transform="rotate(.03 600.5 526.8)">149,600 kb</text>
<line x1="78.3" y1="544.9" x2="249.2" y2="544.9" stroke="#777" stroke-width="0.6"/>
<line x1="78.3" y1="541.3" x2="78.3" y2="548.8" stroke="#65553d" stroke-width="1.0"/>
<line x1="84.4" y1="541.3" x2="84.4" y2="548.8" stroke="#65553d" stroke-width="1.0"/>
<line x1="85.7" y1="541.3" x2="85.7" y2="548.8" stroke="#65553d" stroke-width="1.0"/>
<line x1="236.5" y1="542.1" x2="236.5" y2="547.7" stroke="#1c1c1c" stroke-width="0.7"/>
<line x1="243.8" y1="542.1" x2="243.8" y2="547.7" stroke="#444" stroke-width="0.7"/>
<line x1="245.2" y1="542.1" x2="245.2" y2="547.7" stroke="#444" stroke-width="0.7"/>
<path d="M91.45 543.2L93.15 544.9L91.45 546.6" fill="none" stroke="#484848" stroke-width="0.7"/>
<path d="M107.15 543.2L108.85 544.9L107.15 546.6" fill="none" stroke="#484848" stroke-width="0.7"/>
<path d="M122.45 543.2L124.15 544.9L122.45 546.6" fill="none" stroke="#484848" stroke-width="0.7"/>
<path d="M137.75 543.2L139.45 544.9L137.75 546.6" fill="none" stroke="#484848" stroke-width="0.7"/>
<path d="M153.05 543.2L154.75 544.9L153.05 546.6" fill="none" stroke="#484848" stroke-width="0.7"/>
<path d="M168.45 543.2L170.15 544.9L168.45 546.6" fill="none" stroke="#484848" stroke-width="0.7"/>
<path d="M183.95 543.2L185.65 544.9L183.95 546.6" fill="none" stroke="#484848" stroke-width="0.7"/>
<path d="M199.55 543.2L201.25 544.9L199.55 546.6" fill="none" stroke="#484848" stroke-width="0.7"/>
<path d="M214.95 543.2L216.65 544.9L214.95 546.6" fill="none" stroke="#484848" stroke-width="0.7"/>
<path d="M230.25 543.2L231.95 544.9L230.25 546.6" fill="none" stroke="#484848" stroke-width="0.7"/>
<rect x="249.2" y="541.3" width="24.3" height="7.6" fill="#E9B91E" stroke="#444" stroke-width="0.5"/>
<path d="M263.1 543.5L264.7 544.9L263.1 546.3" fill="none" stroke="#7a5a00" stroke-width="0.6"/>
<text x="175.8" y="562" font-size="6.9" text-anchor="middle" fill="#222" transform="rotate(.03 175.8 562)">STRG.20006.2_Zfp982</text>
<line x1="360.4" y1="544.9" x2="440.2" y2="544.9" stroke="#777" stroke-width="0.6"/>
<line x1="360.4" y1="541.3" x2="360.4" y2="548.8" stroke="#5e4560" stroke-width="1.0"/>
<line x1="436.3" y1="541.3" x2="436.3" y2="548.8" stroke="#4a2a50" stroke-width="1.0"/>
<line x1="367.4" y1="542.1" x2="367.4" y2="547.7" stroke="#444" stroke-width="0.7"/>
<line x1="398.4" y1="542.1" x2="398.4" y2="547.7" stroke="#808080" stroke-width="0.7"/>
<line x1="424.3" y1="542.1" x2="424.3" y2="547.7" stroke="#808080" stroke-width="0.7"/>
<path d="M381.85 543.2L383.55 544.9L381.85 546.6" fill="none" stroke="#484848" stroke-width="0.7"/>
<path d="M397.55 543.2L399.25 544.9L397.55 546.6" fill="none" stroke="#484848" stroke-width="0.7"/>
<path d="M412.85 543.2L414.55 544.9L412.85 546.6" fill="none" stroke="#484848" stroke-width="0.7"/>
<path d="M430.75 543.2L432.45 544.9L430.75 546.6" fill="none" stroke="#484848" stroke-width="0.7"/>
<rect x="440.2" y="541.3" width="6.8" height="7.6" fill="#A3399E" stroke="#444" stroke-width="0.5"/>
<text x="403.6" y="562" font-size="6.9" text-anchor="middle" fill="#222" transform="rotate(.03 403.6 562)">STRG.20011.1_Zfp985</text>
<line x1="524.9" y1="544.9" x2="601.5" y2="544.9" stroke="#777" stroke-width="0.6"/>
<line x1="528.2" y1="541.3" x2="528.2" y2="548.8" stroke="#3a4250" stroke-width="1.0"/>
<line x1="601.5" y1="541.3" x2="601.5" y2="548.8" stroke="#4a5262" stroke-width="1.0"/>
<line x1="536.7" y1="542.1" x2="536.7" y2="547.7" stroke="#808080" stroke-width="0.7"/>
<line x1="560.4" y1="542.1" x2="560.4" y2="547.7" stroke="#808080" stroke-width="0.7"/>
<line x1="591.5" y1="542.1" x2="591.5" y2="547.7" stroke="#808080" stroke-width="0.7"/>
<line x1="598" y1="542.1" x2="598" y2="547.7" stroke="#bdbdbd" stroke-width="0.7"/>
<path d="M545.85 543.2L544.15 544.9L545.85 546.6" fill="none" stroke="#484848" stroke-width="0.7"/>
<path d="M561.25 543.2L559.55 544.9L561.25 546.6" fill="none" stroke="#484848" stroke-width="0.7"/>
<path d="M576.85 543.2L575.15 544.9L576.85 546.6" fill="none" stroke="#484848" stroke-width="0.7"/>
<path d="M592.35 543.2L590.65 544.9L592.35 546.6" fill="none" stroke="#484848" stroke-width="0.7"/>
<rect x="519.2" y="541.3" width="5.7" height="7.6" fill="#5CA5DE" stroke="#444" stroke-width="0.5"/>
<text x="560.7" y="562" font-size="6.9" text-anchor="middle" fill="#222" transform="rotate(.03 560.7 562)">STRG.20013.3_Zfp979</text>
<line x1="55.8" y1="568" x2="630.6" y2="568" stroke="#e4e4e4" stroke-width="0.8"/>
<line x1="55.8" y1="589.3" x2="630.6" y2="589.3" stroke="#e4e4e4" stroke-width="0.8"/>
<line x1="55.8" y1="610.1" x2="630.6" y2="610.1" stroke="#e4e4e4" stroke-width="0.8"/>
<line x1="55.8" y1="629.8" x2="630.6" y2="629.8" stroke="#e4e4e4" stroke-width="0.8"/>
<line x1="55.8" y1="650.8" x2="630.6" y2="650.8" stroke="#e4e4e4" stroke-width="0.8"/>
<text x="23.7" y="580.1" font-size="7.85" fill="#222" transform="rotate(.03 23.7 580.1)">SINE</text>
<text x="23.7" y="601.3" font-size="7.85" fill="#222" transform="rotate(.03 23.7 601.3)">LINE</text>
<text x="23.7" y="622.5" font-size="7.85" fill="#222" transform="rotate(.03 23.7 622.5)">LTR</text>
<text x="23.7" y="641.6" font-size="7.85" fill="#222" transform="rotate(.03 23.7 641.6)">DNA</text>
<line x1="64.5" y1="571.2" x2="64.5" y2="576.6" stroke="#444" stroke-width="0.8"/>
<line x1="66.4" y1="571.2" x2="66.4" y2="576.6" stroke="#444" stroke-width="0.8"/>
<line x1="91.5" y1="571.2" x2="91.5" y2="576.6" stroke="#444" stroke-width="0.8"/>
<line x1="95.5" y1="571.2" x2="95.5" y2="576.6" stroke="#444" stroke-width="0.8"/>
<line x1="117.7" y1="571.2" x2="117.7" y2="576.6" stroke="#808080" stroke-width="0.8"/>
<line x1="150.4" y1="571.2" x2="150.4" y2="576.6" stroke="#bdbdbd" stroke-width="0.8"/>
<line x1="154.4" y1="571.2" x2="154.4" y2="576.6" stroke="#808080" stroke-width="0.8"/>
<line x1="158.5" y1="571.2" x2="158.5" y2="576.6" stroke="#bdbdbd" stroke-width="0.8"/>
<line x1="162.1" y1="571.2" x2="162.1" y2="576.6" stroke="#bdbdbd" stroke-width="0.8"/>
<line x1="199.7" y1="571.2" x2="199.7" y2="576.6" stroke="#808080" stroke-width="0.8"/>
<line x1="213.2" y1="571.2" x2="213.2" y2="576.6" stroke="#808080" stroke-width="0.8"/>
<line x1="237.7" y1="571.2" x2="237.7" y2="576.6" stroke="#808080" stroke-width="0.8"/>
<line x1="244.3" y1="571.2" x2="244.3" y2="576.6" stroke="#444" stroke-width="0.8"/>
<line x1="257.3" y1="571.2" x2="257.3" y2="576.6" stroke="#808080" stroke-width="0.8"/>
<line x1="262.1" y1="571.2" x2="262.1" y2="576.6" stroke="#444" stroke-width="0.8"/>
<line x1="268.2" y1="571.2" x2="268.2" y2="576.6" stroke="#bdbdbd" stroke-width="0.8"/>
<line x1="273.5" y1="571.2" x2="273.5" y2="576.6" stroke="#808080" stroke-width="0.8"/>
<line x1="278.8" y1="571.2" x2="278.8" y2="576.6" stroke="#808080" stroke-width="0.8"/>
<line x1="283" y1="571.2" x2="283" y2="576.6" stroke="#bdbdbd" stroke-width="0.8"/>
<rect x="289.6" y="571.2" width="0.9" height="5.4" fill="#444"/>
<line x1="298.5" y1="571.2" x2="298.5" y2="576.6" stroke="#444" stroke-width="0.8"/>
<line x1="312.4" y1="571.2" x2="312.4" y2="576.6" stroke="#444" stroke-width="0.8"/>
<rect x="322.4" y="571.2" width="1" height="5.4" fill="#1c1c1c"/>
<rect x="324" y="571.2" width="0.7" height="5.4" fill="#444"/>
<line x1="334.6" y1="571.2" x2="334.6" y2="576.6" stroke="#bdbdbd" stroke-width="0.8"/>
<line x1="353.9" y1="571.2" x2="353.9" y2="576.6" stroke="#bdbdbd" stroke-width="0.8"/>
<line x1="364.6" y1="571.2" x2="364.6" y2="576.6" stroke="#808080" stroke-width="0.8"/>
<line x1="380.1" y1="571.2" x2="380.1" y2="576.6" stroke="#808080" stroke-width="0.8"/>
<line x1="399.4" y1="571.2" x2="399.4" y2="576.6" stroke="#444" stroke-width="0.8"/>
<line x1="402.3" y1="571.2" x2="402.3" y2="576.6" stroke="#444" stroke-width="0.8"/>
<line x1="408.9" y1="571.2" x2="408.9" y2="576.6" stroke="#808080" stroke-width="0.8"/>
<line x1="414" y1="571.2" x2="414" y2="576.6" stroke="#808080" stroke-width="0.8"/>
<line x1="415.5" y1="571.2" x2="415.5" y2="576.6" stroke="#808080" stroke-width="0.8"/>
<line x1="432.6" y1="571.2" x2="432.6" y2="576.6" stroke="#808080" stroke-width="0.8"/>
<line x1="435.9" y1="571.2" x2="435.9" y2="576.6" stroke="#808080" stroke-width="0.8"/>
<line x1="470.6" y1="571.2" x2="470.6" y2="576.6" stroke="#808080" stroke-width="0.8"/>
<line x1="483.5" y1="571.2" x2="483.5" y2="576.6" stroke="#444" stroke-width="0.8"/>
<rect x="495.4" y="571.2" width="1.1" height="5.4" fill="#808080"/>
<line x1="499.3" y1="571.2" x2="499.3" y2="576.6" stroke="#bdbdbd" stroke-width="0.8"/>
<line x1="501.1" y1="571.2" x2="501.1" y2="576.6" stroke="#808080" stroke-width="0.8"/>
<line x1="503" y1="571.2" x2="503" y2="576.6" stroke="#808080" stroke-width="0.8"/>
<line x1="511.5" y1="571.2" x2="511.5" y2="576.6" stroke="#1c1c1c" stroke-width="0.8"/>
<line x1="530.1" y1="571.2" x2="530.1" y2="576.6" stroke="#808080" stroke-width="0.8"/>
<line x1="541.5" y1="571.2" x2="541.5" y2="576.6" stroke="#808080" stroke-width="0.8"/>
<line x1="561.4" y1="571.2" x2="561.4" y2="576.6" stroke="#444" stroke-width="0.8"/>
<line x1="563.3" y1="571.2" x2="563.3" y2="576.6" stroke="#444" stroke-width="0.8"/>
<line x1="583.8" y1="571.2" x2="583.8" y2="576.6" stroke="#bdbdbd" stroke-width="0.8"/>
<line x1="600" y1="571.2" x2="600" y2="576.6" stroke="#808080" stroke-width="0.8"/>
<line x1="602.8" y1="571.2" x2="602.8" y2="576.6" stroke="#808080" stroke-width="0.8"/>
<line x1="615.1" y1="571.2" x2="615.1" y2="576.6" stroke="#808080" stroke-width="0.8"/>
<line x1="622.4" y1="571.2" x2="622.4" y2="576.6" stroke="#444" stroke-width="0.8"/>
<line x1="630.2" y1="571.2" x2="630.2" y2="576.6" stroke="#808080" stroke-width="0.8"/>
<text x="64.3" y="587.1" font-size="5.1" text-anchor="middle" fill="#333" transform="rotate(.03 64.3 587.1)">B1_Mm</text>
<text x="90.3" y="587.1" font-size="5.1" text-anchor="middle" fill="#333" transform="rotate(.03 90.3 587.1)">B1_Mus1</text>
<text x="117.9" y="587.1" font-size="5.1" text-anchor="middle" fill="#333" transform="rotate(.03 117.9 587.1)">B1_Mm</text>
<text x="150.2" y="587.1" font-size="5.1" text-anchor="middle" fill="#333" transform="rotate(.03 150.2 587.1)">B3A</text>
<text x="198.8" y="587.1" font-size="5.1" text-anchor="middle" fill="#333" transform="rotate(.03 198.8 587.1)">B1_Mus1</text>
<text x="237.1" y="587.1" font-size="5.1" text-anchor="middle" fill="#333" transform="rotate(.03 237.1 587.1)">B2_Mm1t</text>
<text x="267.4" y="587.1" font-size="5.1" text-anchor="middle" fill="#333" transform="rotate(.03 267.4 587.1)">B1_Mus1</text>
<text x="298.1" y="587.1" font-size="5.1" text-anchor="middle" fill="#333" transform="rotate(.03 298.1 587.1)">B2_Mm2</text>
<text x="333.6" y="587.1" font-size="5.1" text-anchor="middle" fill="#333" transform="rotate(.03 333.6 587.1)">B1_Mm</text>
<text x="364.2" y="587.1" font-size="5.1" text-anchor="middle" fill="#333" transform="rotate(.03 364.2 587.1)">B1_Mus1</text>
<text x="398.8" y="587.1" font-size="5.1" text-anchor="middle" fill="#333" transform="rotate(.03 398.8 587.1)">B2_Mm1t</text>
<text x="431.7" y="587.1" font-size="5.1" text-anchor="middle" fill="#333" transform="rotate(.03 431.7 587.1)">B2_Mm1t</text>
<text x="470.6" y="587.1" font-size="5.1" text-anchor="middle" fill="#333" transform="rotate(.03 470.6 587.1)">B1_Mm</text>
<text x="495.8" y="587.1" font-size="5.1" text-anchor="middle" fill="#333" transform="rotate(.03 495.8 587.1)">B2_Mm2</text>
<text x="529.2" y="587.1" font-size="5.1" text-anchor="middle" fill="#333" transform="rotate(.03 529.2 587.1)">B2_Mm1t</text>
<text x="560.7" y="587.1" font-size="5.1" text-anchor="middle" fill="#333" transform="rotate(.03 560.7 587.1)">B1_Mus2</text>
<text x="598.6" y="587.1" font-size="5.1" text-anchor="middle" fill="#333" transform="rotate(.03 598.6 587.1)">B1_Mus1</text>
<text x="629.8" y="587.1" font-size="5.1" text-anchor="middle" fill="#333" transform="rotate(.03 629.8 587.1)">B2_Mm1t</text>
<rect x="56" y="592.1" width="2.5" height="5.5" fill="#1c1c1c"/>
<line x1="61.1" y1="592.1" x2="61.1" y2="597.6" stroke="#bdbdbd" stroke-width="0.8"/>
<rect x="70.2" y="592.1" width="0.8" height="5.5" fill="#1c1c1c"/>
<line x1="86" y1="592.1" x2="86" y2="597.6" stroke="#808080" stroke-width="0.8"/>
<rect x="100.2" y="592.1" width="4.8" height="5.5" fill="#1c1c1c"/>
<line x1="108.6" y1="592.1" x2="108.6" y2="597.6" stroke="#bdbdbd" stroke-width="0.8"/>
<rect x="120" y="592.1" width="2.8" height="5.5" fill="#1c1c1c"/>
<rect x="143.3" y="592.1" width="0.8" height="5.5" fill="#444"/>
<line x1="155.5" y1="592.1" x2="155.5" y2="597.6" stroke="#bdbdbd" stroke-width="0.8"/>
<rect x="158.9" y="592.1" width="1.5" height="5.5" fill="#1c1c1c"/>
<rect x="162.1" y="592.1" width="1.2" height="5.5" fill="#444"/>
<line x1="165" y1="592.1" x2="165" y2="597.6" stroke="#bdbdbd" stroke-width="0.8"/>
<line x1="166.5" y1="592.1" x2="166.5" y2="597.6" stroke="#bdbdbd" stroke-width="0.8"/>
<line x1="175.4" y1="592.1" x2="175.4" y2="597.6" stroke="#bdbdbd" stroke-width="0.8"/>
<line x1="193.3" y1="592.1" x2="193.3" y2="597.6" stroke="#bdbdbd" stroke-width="0.8"/>
<rect x="201.2" y="592.1" width="1" height="5.5" fill="#1c1c1c"/>
<rect x="207.3" y="592.1" width="1.5" height="5.5" fill="#1c1c1c"/>
<line x1="212" y1="592.1" x2="212" y2="597.6" stroke="#bdbdbd" stroke-width="0.8"/>
<rect x="216.2" y="592.1" width="16.2" height="5.5" fill="#1c1c1c"/>
<path d="M225.2 593.25L223.6 594.85L225.2 596.45" fill="none" stroke="#fff" stroke-width="1.1"/>
<line x1="234.8" y1="592.1" x2="234.8" y2="597.6" stroke="#808080" stroke-width="0.8"/>
<rect x="247.2" y="592.1" width="1.5" height="5.5" fill="#1c1c1c"/>
<rect x="268.2" y="592.1" width="1.5" height="5.5" fill="#1c1c1c"/>
<rect x="293.4" y="592.1" width="3.2" height="5.5" fill="#1c1c1c"/>
<rect x="299.1" y="592.1" width="1.3" height="5.5" fill="#1c1c1c"/>
<line x1="329.5" y1="592.1" x2="329.5" y2="597.6" stroke="#808080" stroke-width="0.8"/>
<line x1="352.2" y1="592.1" x2="352.2" y2="597.6" stroke="#444" stroke-width="0.8"/>
<line x1="366.8" y1="592.1" x2="366.8" y2="597.6" stroke="#808080" stroke-width="0.8"/>
<rect x="376.1" y="592.1" width="2.8" height="5.5" fill="#1c1c1c"/>
<line x1="383.3" y1="592.1" x2="383.3" y2="597.6" stroke="#bdbdbd" stroke-width="0.8"/>
<rect x="392.8" y="592.1" width="5.1" height="5.5" fill="#1c1c1c"/>
<rect x="407" y="592.1" width="2.5" height="5.5" fill="#1c1c1c"/>
<rect x="412.1" y="592.1" width="2.9" height="5.5" fill="#1c1c1c"/>
<rect x="415" y="592.1" width="2.8" height="5.5" fill="#808080"/>
<rect x="438.3" y="592.1" width="1.2" height="5.5" fill="#1c1c1c"/>
<rect x="471.5" y="592.1" width="7.3" height="5.5" fill="#1c1c1c"/>
<line x1="488.6" y1="592.1" x2="488.6" y2="597.6" stroke="#808080" stroke-width="0.8"/>
<rect x="491.1" y="592.1" width="1.9" height="5.5" fill="#1c1c1c"/>
<rect x="503.2" y="592.1" width="3.9" height="5.5" fill="#1c1c1c"/>
<line x1="508" y1="592.1" x2="508" y2="597.6" stroke="#bdbdbd" stroke-width="0.8"/>
<line x1="509.5" y1="592.1" x2="509.5" y2="597.6" stroke="#444" stroke-width="0.8"/>
<rect x="525.1" y="592.1" width="1.7" height="5.5" fill="#1c1c1c"/>
<rect x="569" y="592.1" width="1.5" height="5.5" fill="#1c1c1c"/>
<rect x="575.7" y="592.1" width="4.1" height="5.5" fill="#1c1c1c"/>
<rect x="584.8" y="592.1" width="1.3" height="5.5" fill="#1c1c1c"/>
<rect x="586.7" y="592.1" width="0.9" height="5.5" fill="#444"/>
<line x1="596.9" y1="592.1" x2="596.9" y2="597.6" stroke="#808080" stroke-width="0.8"/>
<rect x="611.4" y="592.1" width="1.1" height="5.5" fill="#444"/>
<line x1="619.4" y1="592.1" x2="619.4" y2="597.6" stroke="#808080" stroke-width="0.8"/>
<text x="56.2" y="607.9" font-size="5.1" text-anchor="middle" fill="#333" transform="rotate(.03 56.2 607.9)">Lx4A</text>
<text x="86" y="607.9" font-size="5.1" text-anchor="middle" fill="#333" transform="rotate(.03 86 607.9)">Lx8</text>
<text x="101.3" y="607.9" font-size="5.1" text-anchor="middle" fill="#333" transform="rotate(.03 101.3 607.9)">Lx2</text>
<text x="120.9" y="607.9" font-size="5.1" text-anchor="middle" fill="#333" transform="rotate(.03 120.9 607.9)">Lx3B</text>
<text x="143" y="607.9" font-size="5.1" text-anchor="middle" fill="#333" transform="rotate(.03 143 607.9)">L1_Mur1</text>
<text x="174.3" y="607.9" font-size="5.1" text-anchor="middle" fill="#333" transform="rotate(.03 174.3 607.9)">L1_Mur2</text>
<text x="201.8" y="607.9" font-size="5.1" text-anchor="middle" fill="#333" transform="rotate(.03 201.8 607.9)">Lx8</text>
<text x="223.2" y="607.9" font-size="5.1" text-anchor="middle" fill="#333" transform="rotate(.03 223.2 607.9)">L1MdF_I</text>
<text x="248" y="607.9" font-size="5.1" text-anchor="middle" fill="#333" transform="rotate(.03 248 607.9)">Lx2</text>
<text x="268.7" y="607.9" font-size="5.1" text-anchor="middle" fill="#333" transform="rotate(.03 268.7 607.9)">Lx6</text>
<text x="294.5" y="607.9" font-size="5.1" text-anchor="middle" fill="#333" transform="rotate(.03 294.5 607.9)">L1_Mur2</text>
<text x="329.1" y="607.9" font-size="5.1" text-anchor="middle" fill="#333" transform="rotate(.03 329.1 607.9)">L1_Mur2</text>
<text x="351.9" y="607.9" font-size="5.1" text-anchor="middle" fill="#333" transform="rotate(.03 351.9 607.9)">Lx6</text>
<text x="366.7" y="607.9" font-size="5.1" text-anchor="middle" fill="#333" transform="rotate(.03 366.7 607.9)">Lx8</text>
<text x="394.9" y="607.9" font-size="5.1" text-anchor="middle" fill="#333" transform="rotate(.03 394.9 607.9)">Lx3B</text>
<text x="413.8" y="607.9" font-size="5.1" text-anchor="middle" fill="#333" transform="rotate(.03 413.8 607.9)">Lx3A</text>
<text x="438.9" y="607.9" font-size="5.1" text-anchor="middle" fill="#333" transform="rotate(.03 438.9 607.9)">Lx2</text>
<text x="471.5" y="607.9" font-size="5.1" text-anchor="middle" fill="#333" transform="rotate(.03 471.5 607.9)">L1MdV_I</text>
<text x="491.5" y="607.9" font-size="5.1" text-anchor="middle" fill="#333" transform="rotate(.03 491.5 607.9)">Lx</text>
<text x="525.7" y="607.9" font-size="5.1" text-anchor="middle" fill="#333" transform="rotate(.03 525.7 607.9)">Lx2</text>
<text x="569.4" y="607.9" font-size="5.1" text-anchor="middle" fill="#333" transform="rotate(.03 569.4 607.9)">Lx3B</text>
<text x="586.9" y="607.9" font-size="5.1" text-anchor="middle" fill="#333" transform="rotate(.03 586.9 607.9)">Lx8</text>
<text x="611.7" y="607.9" font-size="5.1" text-anchor="middle" fill="#333" transform="rotate(.03 611.7 607.9)">Lx6</text>
<rect x="59.2" y="612.6" width="2.1" height="5.7" fill="#1c1c1c"/>
<line x1="66.4" y1="612.6" x2="66.4" y2="618.3" stroke="#444" stroke-width="0.8"/>
<rect x="71.4" y="612.6" width="2.2" height="5.7" fill="#1c1c1c"/>
<rect x="80.1" y="612.6" width="1.5" height="5.7" fill="#1c1c1c"/>
<rect x="87.3" y="612.6" width="2.3" height="5.7" fill="#1c1c1c"/>
<line x1="97.7" y1="612.6" x2="97.7" y2="618.3" stroke="#bdbdbd" stroke-width="0.8"/>
<rect x="105" y="612.6" width="1.3" height="5.7" fill="#444"/>
<rect x="122.8" y="612.6" width="20.9" height="5.7" fill="#1c1c1c"/>
<path d="M136.3 613.85L134.7 615.45L136.3 617.05" fill="none" stroke="#fff" stroke-width="1.1"/>
<rect x="145.2" y="612.6" width="4.2" height="5.7" fill="#1c1c1c"/>
<line x1="153.6" y1="612.6" x2="153.6" y2="618.3" stroke="#808080" stroke-width="0.8"/>
<line x1="163.3" y1="612.6" x2="163.3" y2="618.3" stroke="#808080" stroke-width="0.8"/>
<rect x="173.1" y="612.6" width="1.4" height="5.7" fill="#444"/>
<rect x="175.6" y="612.6" width="16.5" height="5.7" fill="#1c1c1c"/>
<line x1="199.3" y1="612.6" x2="199.3" y2="618.3" stroke="#bdbdbd" stroke-width="0.8"/>
<line x1="203.5" y1="612.6" x2="203.5" y2="618.3" stroke="#808080" stroke-width="0.8"/>
<line x1="212.6" y1="612.6" x2="212.6" y2="618.3" stroke="#808080" stroke-width="0.8"/>
<rect x="232.9" y="612.6" width="1.9" height="5.7" fill="#1c1c1c"/>
<line x1="258.3" y1="612.6" x2="258.3" y2="618.3" stroke="#808080" stroke-width="0.8"/>
<rect x="276.3" y="612.6" width="1" height="5.7" fill="#444"/>
<rect x="277.8" y="612.6" width="1" height="5.7" fill="#444"/>
<rect x="279.4" y="612.6" width="1.3" height="5.7" fill="#444"/>
<line x1="290.5" y1="612.6" x2="290.5" y2="618.3" stroke="#bdbdbd" stroke-width="0.8"/>
<rect x="296.6" y="612.6" width="1.5" height="5.7" fill="#1c1c1c"/>
<rect x="301.6" y="612.6" width="12.1" height="5.7" fill="#1c1c1c"/>
<path d="M311.8 613.85L310.2 615.45L311.8 617.05" fill="none" stroke="#fff" stroke-width="1.1"/>
<rect x="314.5" y="612.6" width="3.2" height="5.7" fill="#1c1c1c"/>
<line x1="322.2" y1="612.6" x2="322.2" y2="618.3" stroke="#bdbdbd" stroke-width="0.8"/>
<line x1="328.5" y1="612.6" x2="328.5" y2="618.3" stroke="#bdbdbd" stroke-width="0.8"/>
<rect x="331.9" y="612.6" width="1.7" height="5.7" fill="#1c1c1c"/>
<rect x="336.7" y="612.6" width="15" height="5.7" fill="#1c1c1c"/>
<path d="M343.5 613.85L345.1 615.45L343.5 617.05" fill="none" stroke="#fff" stroke-width="1.1"/>
<rect x="353.6" y="612.6" width="2.4" height="5.7" fill="#1c1c1c"/>
<rect x="368.4" y="612.6" width="1.5" height="5.7" fill="#1c1c1c"/>
<rect x="379.1" y="612.6" width="2.7" height="5.7" fill="#444"/>
<line x1="400.4" y1="612.6" x2="400.4" y2="618.3" stroke="#808080" stroke-width="0.8"/>
<line x1="406.6" y1="612.6" x2="406.6" y2="618.3" stroke="#808080" stroke-width="0.8"/>
<rect x="408.9" y="612.6" width="2.9" height="5.7" fill="#1c1c1c"/>
<line x1="421.6" y1="612.6" x2="421.6" y2="618.3" stroke="#808080" stroke-width="0.8"/>
<line x1="431.3" y1="612.6" x2="431.3" y2="618.3" stroke="#1c1c1c" stroke-width="0.8"/>
<rect x="453.1" y="612.6" width="16.9" height="5.7" fill="#1c1c1c"/>
<path d="M460.7 613.85L462.3 615.45L460.7 617.05" fill="none" stroke="#fff" stroke-width="1.1"/>
<rect x="480.1" y="612.6" width="1.9" height="5.7" fill="#1c1c1c"/>
<rect x="486.2" y="612.6" width="2.8" height="5.7" fill="#808080"/>
<line x1="507.7" y1="612.6" x2="507.7" y2="618.3" stroke="#bdbdbd" stroke-width="0.8"/>
<rect x="542.1" y="612.6" width="1.7" height="5.7" fill="#1c1c1c"/>
<line x1="558.6" y1="612.6" x2="558.6" y2="618.3" stroke="#bdbdbd" stroke-width="0.8"/>
<line x1="560.9" y1="612.6" x2="560.9" y2="618.3" stroke="#808080" stroke-width="0.8"/>
<rect x="564.3" y="612.6" width="4.3" height="5.7" fill="#444"/>
<rect x="570.5" y="612.6" width="5.2" height="5.7" fill="#1c1c1c"/>
<rect x="581.4" y="612.6" width="2.2" height="5.7" fill="#444"/>
<rect x="594.1" y="612.6" width="1.6" height="5.7" fill="#444"/>
<line x1="599.6" y1="612.6" x2="599.6" y2="618.3" stroke="#bdbdbd" stroke-width="0.8"/>
<rect x="605.6" y="612.6" width="1.9" height="5.7" fill="#1c1c1c"/>
<rect x="608.4" y="612.6" width="2.7" height="5.7" fill="#1c1c1c"/>
<rect x="615.3" y="612.6" width="1.9" height="5.7" fill="#1c1c1c"/>
<line x1="622.2" y1="612.6" x2="622.2" y2="618.3" stroke="#808080" stroke-width="0.8"/>
<rect x="626.5" y="612.6" width="1.6" height="5.7" fill="#444"/>
<text x="59.2" y="628.1" font-size="5.1" text-anchor="middle" fill="#333" transform="rotate(.03 59.2 628.1)">BGLII</text>
<text x="81" y="628.1" font-size="5.1" text-anchor="middle" fill="#333" transform="rotate(.03 81 628.1)">LTRIS2</text>
<text x="105.5" y="628.1" font-size="5.1" text-anchor="middle" fill="#333" transform="rotate(.03 105.5 628.1)">RLTR40</text>
<text x="134.2" y="628.1" font-size="5.1" text-anchor="middle" fill="#333" transform="rotate(.03 134.2 628.1)">IAPEz-int</text>
<text x="173" y="628.1" font-size="5.1" text-anchor="middle" fill="#333" transform="rotate(.03 173 628.1)">RMER17B</text>
<text x="202.8" y="628.1" font-size="5.1" text-anchor="middle" fill="#333" transform="rotate(.03 202.8 628.1)">RMER6A</text>
<text x="233.1" y="628.1" font-size="5.1" text-anchor="middle" fill="#333" transform="rotate(.03 233.1 628.1)">RLTR13A</text>
<text x="275.6" y="628.1" font-size="5.1" text-anchor="middle" fill="#333" transform="rotate(.03 275.6 628.1)">MLTR18A_MM</text>
<text x="312.4" y="628.1" font-size="5.1" text-anchor="middle" fill="#333" transform="rotate(.03 312.4 628.1)">BGLII_B</text>
<text x="343.7" y="628.1" font-size="5.1" text-anchor="middle" fill="#333" transform="rotate(.03 343.7 628.1)">MMETn-int</text>
<text x="379.3" y="628.1" font-size="5.1" text-anchor="middle" fill="#333" transform="rotate(.03 379.3 628.1)">RMER6A</text>
<text x="410" y="628.1" font-size="5.1" text-anchor="middle" fill="#333" transform="rotate(.03 410 628.1)">RLTR13A3</text>
<text x="459.6" y="628.1" font-size="5.1" text-anchor="middle" fill="#333" transform="rotate(.03 459.6 628.1)">MERVL-int</text>
<text x="488.5" y="628.1" font-size="5.1" text-anchor="middle" fill="#333" transform="rotate(.03 488.5 628.1)">MYSERV-int</text>
<text x="542.4" y="628.1" font-size="5.1" text-anchor="middle" fill="#333" transform="rotate(.03 542.4 628.1)">RMER17A</text>
<text x="573" y="628.1" font-size="5.1" text-anchor="middle" fill="#333" transform="rotate(.03 573 628.1)">MTA_Mm</text>
<text x="607" y="628.1" font-size="5.1" text-anchor="middle" fill="#333" transform="rotate(.03 607 628.1)">RLTR1D2_MM</text>
<line x1="259.5" y1="633.5" x2="259.5" y2="637.1" stroke="#999" stroke-width="0.7"/>
<text x="259.5" y="648.3" font-size="5.1" text-anchor="middle" fill="#333" transform="rotate(.03 259.5 648.3)">URR1B</text>
<line x1="447.4" y1="633.5" x2="447.4" y2="637.1" stroke="#999" stroke-width="0.7"/>
<text x="447.4" y="648.3" font-size="5.1" text-anchor="middle" fill="#333" transform="rotate(.03 447.4 648.3)">URR1B</text>
<g transform="translate(447.3 619) rotate(45)"><path d="M0 0 L4.4 9.6 L1.6 7.6 L1.6 12.8 L-1.6 12.8 L-1.6 7.6 L-4.4 9.6 Z" fill="#EE6A1E"/></g>
<text x="0.5" y="696.6" font-size="14" font-weight="bold" fill="#111" transform="rotate(.03 0.5 696.6)">e</text>
<text x="353.7" y="696.2" font-size="14" font-weight="bold" fill="#111" transform="rotate(.03 353.7 696.2)">f</text>
<text x="185.7" y="703.5" font-size="6.9" text-anchor="middle" fill="#222" transform="rotate(.03 185.7 703.5)">chr4_contig-0000897</text>
<text x="536.7" y="703.5" font-size="6.9" text-anchor="middle" fill="#222" transform="rotate(.03 536.7 703.5)">chr4_contig-0000897</text>
<line x1="58.3" y1="725.5" x2="322.8" y2="725.5" stroke="#3c3c3c" stroke-width="0.9"/>
<line x1="58.3" y1="722.3" x2="58.3" y2="725.9" stroke="#3c3c3c" stroke-width="0.8"/>
<line x1="87.4" y1="722.3" x2="87.4" y2="725.9" stroke="#3c3c3c" stroke-width="0.8"/>
<line x1="116.5" y1="722.3" x2="116.5" y2="725.9" stroke="#3c3c3c" stroke-width="0.8"/>
<line x1="145.6" y1="722.3" x2="145.6" y2="725.9" stroke="#3c3c3c" stroke-width="0.8"/>
<line x1="174.7" y1="722.3" x2="174.7" y2="725.9" stroke="#3c3c3c" stroke-width="0.8"/>
<line x1="203.8" y1="722.3" x2="203.8" y2="725.9" stroke="#3c3c3c" stroke-width="0.8"/>
<line x1="232.9" y1="722.3" x2="232.9" y2="725.9" stroke="#3c3c3c" stroke-width="0.8"/>
<line x1="262" y1="722.3" x2="262" y2="725.9" stroke="#3c3c3c" stroke-width="0.8"/>
<line x1="291.1" y1="722.3" x2="291.1" y2="725.9" stroke="#3c3c3c" stroke-width="0.8"/>
<line x1="320.2" y1="722.3" x2="320.2" y2="725.9" stroke="#3c3c3c" stroke-width="0.8"/>
<text x="85" y="718.3" font-size="6.2" text-anchor="middle" fill="#222" transform="rotate(.03 85 718.3)">147,128 kb</text>
<text x="143.2" y="718.3" font-size="6.2" text-anchor="middle" fill="#222" transform="rotate(.03 143.2 718.3)">147,129 kb</text>
<text x="201.4" y="718.3" font-size="6.2" text-anchor="middle" fill="#222" transform="rotate(.03 201.4 718.3)">147,130 kp</text>
<text x="259.6" y="718.3" font-size="6.2" text-anchor="middle" fill="#222" transform="rotate(.03 259.6 718.3)">147,131 kb</text>
<text x="317.8" y="718.3" font-size="6.2" text-anchor="middle" fill="#222" transform="rotate(.03 317.8 718.3)">147,132 kb</text>
<line x1="405.8" y1="725.5" x2="653.7" y2="725.5" stroke="#3c3c3c" stroke-width="0.9"/>
<line x1="420.4" y1="722.3" x2="420.4" y2="725.9" stroke="#3c3c3c" stroke-width="0.8"/>
<line x1="445.62" y1="722.3" x2="445.62" y2="725.9" stroke="#3c3c3c" stroke-width="0.8"/>
<line x1="470.84" y1="722.3" x2="470.84" y2="725.9" stroke="#3c3c3c" stroke-width="0.8"/>
<line x1="496.06" y1="722.3" x2="496.06" y2="725.9" stroke="#3c3c3c" stroke-width="0.8"/>
<line x1="521.28" y1="722.3" x2="521.28" y2="725.9" stroke="#3c3c3c" stroke-width="0.8"/>
<line x1="546.5" y1="722.3" x2="546.5" y2="725.9" stroke="#3c3c3c" stroke-width="0.8"/>
<line x1="571.72" y1="722.3" x2="571.72" y2="725.9" stroke="#3c3c3c" stroke-width="0.8"/>
<line x1="596.94" y1="722.3" x2="596.94" y2="725.9" stroke="#3c3c3c" stroke-width="0.8"/>
<line x1="622.16" y1="722.3" x2="622.16" y2="725.9" stroke="#3c3c3c" stroke-width="0.8"/>
<line x1="647.38" y1="722.3" x2="647.38" y2="725.9" stroke="#3c3c3c" stroke-width="0.8"/>
<text x="446.02" y="718.3" font-size="6.2" text-anchor="middle" fill="#222" transform="rotate(.03 446.02 718.3)">149,613,500 bp</text>
<text x="546.9" y="718.3" font-size="6.2" text-anchor="middle" fill="#222" transform="rotate(.03 546.9 718.3)">149,613,900 bp</text>
<text x="647.78" y="718.3" font-size="6.2" text-anchor="middle" fill="#222" transform="rotate(.03 647.78 718.3)">149,614,300 bp</text>
<line x1="55.8" y1="730.3" x2="322.8" y2="730.3" stroke="#e4e4e4" stroke-width="0.8"/>
<line x1="405.8" y1="730.3" x2="653.7" y2="730.3" stroke="#e4e4e4" stroke-width="0.8"/>
<line x1="55.8" y1="750.8" x2="322.8" y2="750.8" stroke="#e4e4e4" stroke-width="0.8"/>
<line x1="405.8" y1="750.8" x2="653.7" y2="750.8" stroke="#e4e4e4" stroke-width="0.8"/>
<line x1="55.8" y1="771.6" x2="322.8" y2="771.6" stroke="#e4e4e4" stroke-width="0.8"/>
<line x1="405.8" y1="771.6" x2="653.7" y2="771.6" stroke="#e4e4e4" stroke-width="0.8"/>
<line x1="55.8" y1="792.3" x2="322.8" y2="792.3" stroke="#e4e4e4" stroke-width="0.8"/>
<line x1="405.8" y1="792.3" x2="653.7" y2="792.3" stroke="#e4e4e4" stroke-width="0.8"/>
<line x1="55.8" y1="812.7" x2="322.8" y2="812.7" stroke="#e4e4e4" stroke-width="0.8"/>
<line x1="405.8" y1="812.7" x2="653.7" y2="812.7" stroke="#e4e4e4" stroke-width="0.8"/>
<text x="23.7" y="745.3" font-size="7.85" fill="#222" transform="rotate(.03 23.7 745.3)">SINE</text>
<text x="373" y="745.3" font-size="7.85" fill="#222" transform="rotate(.03 373 745.3)">SINE</text>
<text x="23.7" y="765.4" font-size="7.85" fill="#222" transform="rotate(.03 23.7 765.4)">LINE</text>
<text x="373" y="765.4" font-size="7.85" fill="#222" transform="rotate(.03 373 765.4)">LINE</text>
<text x="23.7" y="785.3" font-size="7.85" fill="#222" transform="rotate(.03 23.7 785.3)">LTR</text>
<text x="373" y="785.3" font-size="7.85" fill="#222" transform="rotate(.03 373 785.3)">LTR</text>
<text x="23.7" y="804.9" font-size="7.85" fill="#222" transform="rotate(.03 23.7 804.9)">DNA</text>
<text x="373" y="804.9" font-size="7.85" fill="#222" transform="rotate(.03 373 804.9)">DNA</text>
<rect x="77.9" y="733.5" width="8.3" height="4.9" fill="#141414"/>
<polygon points="83.7,734.6 82.1,735.95 83.7,737.3" fill="#fff"/>
<text x="83.2" y="747.1" font-size="5.1" text-anchor="middle" fill="#333" transform="rotate(.03 83.2 747.1)">B1_Mm</text>
<rect x="98.4" y="754.4" width="157.1" height="5" fill="#141414"/>
<rect x="126.8" y="754.4" width="6.4" height="5" fill="#505050"/>
<line x1="133.3" y1="754.4" x2="133.3" y2="759.4" stroke="#bbb" stroke-width="0.5"/>
<polygon points="105.6,755.55 104,756.9 105.6,758.25" fill="#fff"/>
<polygon points="115.8,755.55 114.2,756.9 115.8,758.25" fill="#fff"/>
<polygon points="126.4,755.55 124.8,756.9 126.4,758.25" fill="#fff"/>
<polygon points="139.8,755.55 138.2,756.9 139.8,758.25" fill="#fff"/>
<polygon points="150.3,755.55 148.7,756.9 150.3,758.25" fill="#fff"/>
<polygon points="160.8,755.55 159.2,756.9 160.8,758.25" fill="#fff"/>
<polygon points="171.7,755.55 170.1,756.9 171.7,758.25" fill="#fff"/>
<polygon points="180.8,755.55 179.2,756.9 180.8,758.25" fill="#fff"/>
<polygon points="192.2,755.55 190.6,756.9 192.2,758.25" fill="#fff"/>
<polygon points="130.3,755.55 128.7,756.9 130.3,758.25" fill="#fff"/>
<polygon points="196.8,755.55 198.4,756.9 196.8,758.25" fill="#fff"/>
<polygon points="207.4,755.55 209,756.9 207.4,758.25" fill="#fff"/>
<polygon points="218.2,755.55 219.8,756.9 218.2,758.25" fill="#fff"/>
<polygon points="228.7,755.55 230.3,756.9 228.7,758.25" fill="#fff"/>
<polygon points="239,755.55 240.6,756.9 239,758.25" fill="#fff"/>
<polygon points="249.6,755.55 251.2,756.9 249.6,758.25" fill="#fff"/>
<text x="116.1" y="768" font-size="5.1" text-anchor="middle" fill="#333" transform="rotate(.03 116.1 768)">L1MdV_I</text>
<text x="166.5" y="768" font-size="5.1" text-anchor="middle" fill="#333" transform="rotate(.03 166.5 768)">L1MdV_I</text>
<text x="227" y="768" font-size="5.1" text-anchor="middle" fill="#333" transform="rotate(.03 227 768)">L1MdV_I</text>
<path d="M126.65 739.4L129.35 739.4L129.35 743.8L132.2 742.5L128 752.4L123.8 742.5L126.65 743.8Z" fill="#C8202F"/>
<path d="M132.25 739.4L134.95 739.4L134.95 743.8L137.8 742.5L133.6 752.5L129.4 742.5L132.25 743.8Z" fill="#C8202F"/>
<path d="M193.35 739.4L196.05 739.4L196.05 743.8L198.9 742.5L194.7 752.4L190.5 742.5L193.35 743.8Z" fill="#C8202F"/>
<rect x="268.5" y="775.5" width="44.2" height="4.7" fill="#141414"/>
<polygon points="275.1,776.5 273.5,777.85 275.1,779.2" fill="#fff"/>
<polygon points="285.6,776.5 284,777.85 285.6,779.2" fill="#fff"/>
<polygon points="295.9,776.5 294.3,777.85 295.9,779.2" fill="#fff"/>
<polygon points="306.5,776.5 304.9,777.85 306.5,779.2" fill="#fff"/>
<text x="290.9" y="788" font-size="5.1" text-anchor="middle" fill="#333" transform="rotate(.03 290.9 788)">MYSERV-int</text>
<rect x="423.4" y="734" width="35.4" height="5" fill="#141414"/>
<polygon points="428.2,735.15 426.6,736.5 428.2,737.85" fill="#fff"/>
<polygon points="435.8,735.15 434.2,736.5 435.8,737.85" fill="#fff"/>
<polygon points="443.3,735.15 441.7,736.5 443.3,737.85" fill="#fff"/>
<polygon points="450.8,735.15 449.2,736.5 450.8,737.85" fill="#fff"/>
<polygon points="458.4,735.15 456.8,736.5 458.4,737.85" fill="#fff"/>
<text x="440.9" y="747.8" font-size="5.1" text-anchor="middle" fill="#333" transform="rotate(.03 440.9 747.8)">B1_Mm</text>
<rect x="460.1" y="775.5" width="39.4" height="4.7" fill="#141414"/>
<rect x="499.5" y="775.5" width="28.6" height="4.7" fill="#3c3c3c"/>
<rect x="528.1" y="775.5" width="27.6" height="4.7" fill="#858585"/>
<rect x="563.3" y="775.5" width="10.8" height="4.7" fill="#a8a8a8"/>
<rect x="574.1" y="775.5" width="64.5" height="4.7" fill="#262626"/>
<polygon points="463.6,776.5 465.2,777.85 463.6,779.2" fill="#fff"/>
<polygon points="471.1,776.5 472.7,777.85 471.1,779.2" fill="#fff"/>
<polygon points="478.6,776.5 480.2,777.85 478.6,779.2" fill="#fff"/>
<polygon points="486.2,776.5 487.8,777.85 486.2,779.2" fill="#fff"/>
<polygon points="493.7,776.5 495.3,777.85 493.7,779.2" fill="#fff"/>
<polygon points="502,776.5 503.6,777.85 502,779.2" fill="#fff"/>
<polygon points="510.1,776.5 511.7,777.85 510.1,779.2" fill="#fff"/>
<polygon points="516.7,776.5 518.3,777.85 516.7,779.2" fill="#fff"/>
<polygon points="524.2,776.5 525.8,777.85 524.2,779.2" fill="#fff"/>
<polygon points="530.2,776.5 531.8,777.85 530.2,779.2" fill="#fff"/>
<polygon points="537.2,776.5 538.8,777.85 537.2,779.2" fill="#fff"/>
<polygon points="544.9,776.5 546.5,777.85 544.9,779.2" fill="#fff"/>
<polygon points="552.4,776.5 554,777.85 552.4,779.2" fill="#fff"/>
<polygon points="567.2,776.5 568.8,777.85 567.2,779.2" fill="#fff"/>
<polygon points="576.2,776.5 577.8,777.85 576.2,779.2" fill="#fff"/>
<polygon points="583.8,776.5 585.4,777.85 583.8,779.2" fill="#fff"/>
<polygon points="591.3,776.5 592.9,777.85 591.3,779.2" fill="#fff"/>
<polygon points="598.9,776.5 600.5,777.85 598.9,779.2" fill="#fff"/>
<polygon points="607.2,776.5 608.8,777.85 607.2,779.2" fill="#fff"/>
<polygon points="614.7,776.5 616.3,777.85 614.7,779.2" fill="#fff"/>
<polygon points="622.2,776.5 623.8,777.85 622.2,779.2" fill="#fff"/>
<polygon points="629.8,776.5 631.4,777.85 629.8,779.2" fill="#fff"/>
<polygon points="636.8,776.5 638.4,777.85 636.8,779.2" fill="#fff"/>
<text x="477.4" y="789.3" font-size="5.1" text-anchor="middle" fill="#333" transform="rotate(.03 477.4 789.3)">RMER16-int</text>
<text x="511.3" y="789.3" font-size="5.1" text-anchor="middle" fill="#333" transform="rotate(.03 511.3 789.3)">RMER16-int</text>
<text x="542.1" y="789.3" font-size="5.1" text-anchor="middle" fill="#333" transform="rotate(.03 542.1 789.3)">MuRRS4-int</text>
<text x="573" y="789.3" font-size="5.1" text-anchor="middle" fill="#333" transform="rotate(.03 573 789.3)">MuRRS4-int</text>
<text x="607.8" y="789.3" font-size="5.1" text-anchor="middle" fill="#333" transform="rotate(.03 607.8 789.3)">LTRIS6</text>
</g>
</svg>
</body></html>
